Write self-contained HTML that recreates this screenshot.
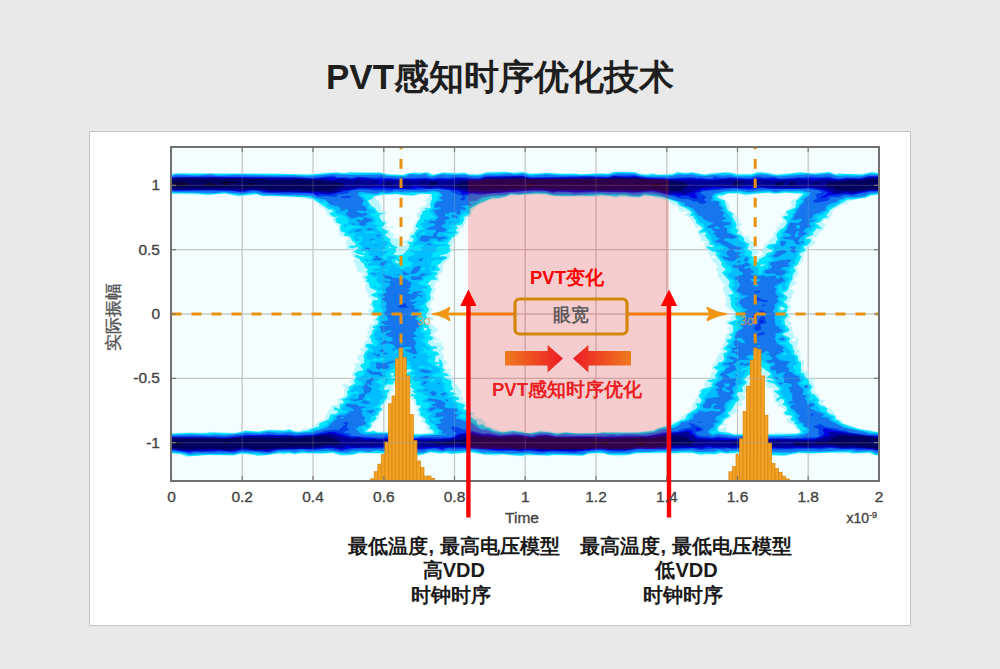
<!DOCTYPE html>
<html lang="zh"><head><meta charset="utf-8"><title>PVT感知时序优化技术</title>
<style>
html,body{margin:0;padding:0;}
body{width:1000px;height:669px;overflow:hidden;background:#e9e9e9;position:relative;font-family:"Liberation Sans",sans-serif;}
.t{position:absolute;white-space:nowrap;line-height:1;}
.card{position:absolute;left:89px;top:131px;width:820px;height:493px;border:1px solid #c6c6c6;background:#fff;}
.plot{position:absolute;left:0;top:0;}
.title{left:0;width:1000px;text-align:center;font-weight:bold;color:#1e1e1e;}
.tick{color:#444;-webkit-text-stroke:0.35px #444;}
.c{text-align:center;}
.r{text-align:right;}
.b{font-weight:bold;}
.bt{width:240px;font-size:20px;color:#1a1a1a;}
</style></head><body>
<div class="card"></div>
<svg class="plot" width="1000" height="669" viewBox="0 0 1000 669">
<defs><clipPath id="pc"><rect x="171" y="147" width="708" height="334"/></clipPath><linearGradient id="gl" x1="0" x2="1" y1="0" y2="0"><stop offset="0" stop-color="#f07a1e"/><stop offset="1" stop-color="#ec1c26"/></linearGradient><linearGradient id="gr" x1="1" x2="0" y1="0" y2="0"><stop offset="0" stop-color="#f07a1e"/><stop offset="1" stop-color="#ec1c26"/></linearGradient></defs>
<rect x="171" y="147" width="708" height="334" fill="#f5feff"/>
<path d="M242.2 147V481M313.0 147V481M383.8 147V481M454.5 147V481M525.2 147V481M596.0 147V481M666.8 147V481M737.5 147V481M808.2 147V481M171 185.3H879M171 249.7H879M171 314.0H879M171 378.4H879M171 442.7H879" stroke="#d6d6d6" stroke-width="1.3" fill="none"/>
<g clip-path="url(#pc)">
<path fill="rgb(185,246,255)" fill-rule="evenodd" d="M620.5 456.5L608.5 455.5L602.5 453.6L589.5 454L582.5 456.1L553.5 455.5L548.5 456.3L529.5 455.7L522.5 456.4L502.5 455L494.5 455.9L471.5 453.1L450.5 454.5L446.5 453.4L440.5 453.9L431.5 453.1L418.5 456.1L412.5 454.7L358.5 453.5L352.5 455.2L342.5 456.2L332.5 453.4L309.5 454.2L303.5 453.4L294.5 454.5L288.5 453.7L284.5 454.5L275.5 454.2L258.5 456.3L248.5 454.4L240.5 454.2L232.5 455.8L203.5 455.5L186.5 457L180.2 454.5L171.5 453.6L169.8 451.5L168.9 443.5L169.8 435.5L171.5 433L189.5 432.2L206.5 432.6L211.5 431.8L235.5 432.4L244.5 430.3L258.5 430.9L268.5 429.5L283.5 430L289.5 428.7L293.5 430.6L298.5 431.1L304.5 428.5L311 427.5L320.5 420.9L325.4 419.5L325.2 416.5L327.9 412.5L327.8 410.5L330.5 408.6L330.4 406.5L331.5 405L336.5 405L339.3 401.5L337.1 399.5L343.5 396.4L344.8 392.5L344.1 390.5L345.6 386.5L343.5 386.7L340.8 385.5L343.5 384.2L350.5 384.9L352.6 383.5L349.5 382.5L349.5 381.5L354.6 377.5L352.5 376.2L351.8 374.5L355.5 367.5L355.6 365.5L354.1 363.5L361 362.5L360.8 361.5L357 359.5L357.8 357.5L356.7 356.5L362.3 353.5L362 350.5L359.5 349.5L360.4 348.5L362.5 349.1L363.6 348.5L363.4 345.5L365.3 341.5L368 339.5L368.1 338.5L366 336.5L369.2 334.5L366.8 332.5L370.4 329.5L368.4 327.5L369.6 326.5L369.4 324.5L374.5 323.5L375.4 322.5L372.9 320.5L372.9 319.5L376 317.5L376.3 316.5L374.5 315.2L369.5 315.7L369.7 312.5L367.1 310.5L369.8 309.5L371.6 307.5L368.4 304.5L370.5 303.8L371.6 298.5L368.2 296.5L368.7 294.5L366.5 291.6L365.3 286.5L366.3 283.5L363.8 282.5L364 279.5L361.8 277.5L364.1 273.5L357.6 271.5L356.8 270.5L357.5 268.5L355.3 265.5L355.5 263.5L352.9 261.5L355.5 258.5L352.7 256.5L351.2 252.5L351.7 250.5L348.5 249.3L346.5 249.6L345.4 248.5L347 246.5L345.9 241.5L348.6 238.5L347.7 237.5L340.5 236L339.3 234.5L339.8 232.5L338 230.5L339 228.5L337.9 225.5L332.6 221.5L333.3 218.5L326.6 214.5L326.8 212.5L325 210.5L325.5 209.5L318.6 205.5L319.5 204.5L318.6 203.5L315.6 202.5L311.5 199.4L294.5 197.4L262.5 196.6L256.5 194.9L238.5 196.4L225.5 194.1L207.5 195.3L171.5 194.2L169.9 191.5L168.9 184.5L170.3 175.5L173.5 173.2L181.5 172.7L308.5 173.9L326.5 172.1L344.5 172.4L349.5 171.6L366.5 172.5L379.5 172L388.5 173.9L403.5 174.2L414.5 172L427.5 171.8L433.5 174.4L443.5 172L457.5 172.6L464.5 172L468.5 173.6L477.5 174L485.5 171.9L504.5 171.4L514.5 172.1L522.5 171.6L535.5 173.5L547.5 172.4L587.5 173.7L597.5 172.7L607.5 173.3L613.5 171.2L621.5 171.3L635.5 171.7L644.5 173.9L652.5 172.9L658.5 174.1L672.5 173.6L677.5 171.6L685.5 172.4L692.5 171.8L703.5 174.2L714.5 171.9L729.5 171.8L739.5 173.8L751.5 173.7L756.5 171.8L761.5 171.7L771.5 172.8L776.5 174.4L780.5 173.5L792.2 173.5L799.5 171.6L813.5 172.7L829.5 171.6L834.5 173.5L839.5 172.9L848.5 173.8L861.5 173.7L872.5 171.4L878.5 172.2L880.3 175.5L881.1 182.5L880.3 191.5L878.5 195.3L872.5 195.7L865.5 198.3L860.1 198.5L848.2 201.5L847.2 202.5L848.6 204.5L842.5 204.3L837.5 208L833.6 209.5L829.5 219.1L828.5 219.9L824.5 219.6L821.7 222.5L826.2 224.5L823.4 226.5L823.9 229.5L818 233.5L817.9 236.5L812.8 237.5L813.2 240.5L815.5 241.5L814.7 243.5L806.7 248.5L808.2 250.5L803.3 254.5L803.6 256.5L802.4 259.5L803.1 261.5L800 263.5L799.2 265.5L796.7 267.5L798.7 274.5L795.3 277.5L793.7 280.5L795.5 282L797.5 281.7L798.2 282.5L794.5 283.2L796 284.5L791.4 286.5L790.5 288.5L793.6 290.5L794 292.5L791.9 294.5L792.4 296.5L790.4 299.5L790.8 301.5L788.1 302.5L787.8 303.5L790.9 305.5L789.1 312.5L791.3 316.5L787.9 319.5L792.1 323.5L789.8 325.5L792.4 328.5L791.3 331.5L794.2 332.5L792.6 334.5L796.3 337.5L792.6 338.5L792.2 340.5L794.5 341.4L795.5 340.8L796.5 337.7L799.2 338.5L797.6 341.5L797.5 344.4L796.4 344.5L797.3 345.5L795.3 347.5L799.8 350.5L798.5 353.5L801.6 355.5L800.3 356.5L800.3 359.5L804.5 361.5L802.8 368.5L804.5 370.6L809.1 372.5L808.6 376.5L809.6 377.5L813.5 378.3L815.5 380.5L814.5 381.1L812.5 379.6L811.8 380.5L814.5 385.5L813.6 389.5L814.2 390.5L816.5 393.8L819.8 395.5L818.8 396.5L819.2 397.5L821.5 399.7L825.4 400.5L822 403.5L834 411.5L834.7 412.5L834 413.5L836.5 415.5L837.5 418.5L841.5 420L844.3 423.5L859.2 428.5L878.5 431.7L880 433.5L881.1 442.5L880.1 452.5L878.5 455.5L875.5 455.9L869.5 453.5L851.5 454.2L847.5 453.1L839.5 453.9L833.5 453.1L819.5 453.3L813.5 454.4L798.5 453.4L786.5 456.1L773.5 456.1L763.5 453L754.5 453.7L744.5 452.6L736.5 453.8L720.5 453.5L714.5 455.1L710.5 454.7L701.5 455.8L692.5 453.4L644.5 453.5L633.5 454.2L620.5 456.5ZM757.5 256.5L762.5 254.8L763.5 253.6L761 251.5L763.2 248.5L764.5 244.4L765.5 243.1L768.5 242.2L770.5 238.7L773.7 236.5L773.7 233.5L776.3 230.5L777 227.5L781.5 226.5L779.5 226.5L778.6 225.5L780.5 222.8L783.7 222.5L783 219.5L780.7 216.5L784.2 214.5L785.5 210.9L792.2 206.5L792.1 204.5L790 202.5L792.5 200.1L796.5 198.8L800.3 194.5L788.5 193.3L775.5 194.2L759.5 193.4L746.5 195.9L740.5 194.4L729.5 193.9L725.9 194.5L721.6 197.5L726.4 200.5L728.8 204.5L730.6 210.5L734.3 212.5L735.7 216.5L737.5 216.9L740.3 219.5L738.7 221.5L738.9 222.5L741.3 223.5L741.7 224.5L739.8 225.5L739.5 227.5L743.3 235.5L744.5 236.4L748.5 236.1L749.7 238.5L748.2 239.5L754.5 242.5L755.7 245.5L753.6 248.5L759.3 251.5L757.5 254.4L754.4 255.5L757.5 256.5ZM402.9 241.5L409 239.5L408.7 234.5L412.6 231.5L413.5 229.5L413.2 226.5L418 218.5L416.5 213.5L419.3 212.5L420.2 210.5L419.7 208.5L420.5 207.7L424.5 206.5L427.9 202.5L426.5 200.9L422.2 200.5L425.5 199.9L428.5 198L429.3 194.5L420.5 194.4L412.5 196.3L393.5 194.7L376.3 196.5L375.7 199.5L379.7 201.5L379 203.5L380.5 204.2L381.8 206.5L381.1 210.5L384.5 210.6L386.7 213.5L384.6 215.5L385 219.5L388.1 222.5L385.9 225.5L387.5 227.3L392.5 226L393.6 226.5L393.8 227.5L392.5 228.3L387.5 227.6L386.5 228.5L387.5 229.5L389.5 229.2L390.8 232.5L395.4 235.5L391.4 237.5L398.5 238.8L399.3 240.5L402.9 241.5ZM609.4 432.5L613.5 431.7L634.5 432.1L651.1 430.5L668.5 424.7L671.5 421.9L678.7 420.5L682.5 416.1L688.4 412.5L691 409.5L692.6 406.5L692.6 403.5L695.6 401.5L694.4 399.5L697.7 397.5L697.6 395.5L698.9 393.5L698.7 390.5L704.9 386.5L704.2 384.5L705.6 380.5L710.4 377.5L711 375.5L710.1 373.5L715.3 371.5L715.1 370.5L712.5 369.7L711.7 368.5L713 364.5L716 361.5L716.4 358.5L718.7 353.5L723.3 351.5L720.1 349.5L724.7 342.5L724.2 339.5L727 333.5L730.5 332.2L729.2 329.5L726 328.5L730.4 326.5L730.4 325.5L725.7 323.5L725.5 322.5L727.5 320.7L730.5 320L730 317.5L732.8 315.5L733.5 312.5L727.4 307.5L725.3 304.5L725.6 302.5L727.6 300.5L725 299.5L727.1 297.5L723.9 294.5L725.5 292.5L722.4 290.5L723.8 286.5L726.4 285.5L722.5 283.1L720.8 279.5L718 276.5L717.9 271.5L715.6 268.5L718.9 266.5L716 265.5L716.5 263L714.5 262.7L712.3 260.5L712.5 258L715.5 258.8L716 257.5L713.5 255.7L712.5 255.7L711.5 257.6L710.5 256.7L706.8 249.5L704.8 247.5L704.8 243.5L706.8 241.5L705.5 241L703.5 241.8L700.2 240.5L701.6 238.5L698.4 234.5L697.2 230.5L701.1 228.5L695.5 227.1L690.5 218.5L684.4 214.5L688.5 212.4L685.5 210.9L680.5 211.7L678.9 210.5L678.1 206.5L672.6 204.5L667.1 200.5L651 196.5L643.5 196L639.5 198L621.5 197.1L615.5 197.9L609.5 196.4L567.5 196.9L551.3 196.5L546.5 194.9L536.5 194.4L515.5 195.6L511.5 194.9L501.5 198.6L490.5 200.1L479.4 204.5L473.9 208.5L471.9 211.5L471.5 214.5L466.7 218.5L464.1 226.5L459.3 229.5L460 232.5L459.2 234.5L453.7 238.5L453.7 241.5L455.6 242.5L453.5 242.7L452.2 244.5L451.6 247.5L452.4 250.5L450 253.5L450.7 255.5L450 257.5L443.2 264.5L443.5 266.5L442.2 268.5L443.3 270.5L438.4 275.5L439.7 280.5L434.4 282.5L435.7 284.5L433.2 287.5L436.6 289.5L434.5 290.7L434.2 292.5L432.2 294.5L434.4 299.5L431.1 301.5L429.6 306.5L432.8 309.5L431.5 309.8L431 312.5L428.6 315.5L432.5 317.3L433.6 319.5L430.2 320.5L429.7 321.5L430.6 323.5L436.5 327.7L437.7 329.5L436.2 332.5L431.7 334.5L435.5 336.5L437.5 339.3L440.4 339.5L439.5 340.6L434.5 340.4L433.5 341.5L435.5 343.1L437.5 341.9L441.3 342.5L442.9 346.5L444.2 347.5L444.2 349.5L440.6 351.5L444 355.5L443.4 359.5L448 362.5L444.5 365.5L444.5 367.5L446.5 369.7L449.5 368.9L451.8 369.5L449.7 371.5L450.4 373.5L452.6 375.5L449.9 377.5L453 379.5L454.5 383.4L456.6 384.5L461.4 391.5L461.9 394.5L458.6 395.5L463.3 397.5L463.7 398.5L461.7 400.5L467.5 401.9L470.9 404.5L467.2 407.5L471.2 409.5L469.9 410.5L475.5 414.2L472.4 415.5L473 416.5L475.5 417.7L482.4 418.5L483.2 419.5L482.7 420.5L486.4 422.5L486.5 425.6L502.5 431.5L512.5 429.9L516.5 430.8L521.5 430.7L526.3 432.5L529.5 432.7L540.5 430.6L549.5 431L555.5 432.7L563.5 431.8L576.5 432.7L595.5 432.7L603.5 431.8L609.4 432.5ZM817.3 232.5L818.3 231.5L817.5 230.8L815.8 232.5L817.3 232.5ZM405.5 245.5L406.2 244.5L405.5 243.3L402.5 242.7L402.5 245.1L405.5 245.5ZM724 279.5L723.5 277.2L721.7 277.5L723.5 280.1L724 279.5ZM449.2 372.5L449.4 371.5L447.5 370.6L446.4 371.5L449.2 372.5ZM772.6 433.5L775.5 432.6L795.5 433.3L798.8 432.5L798.8 431.5L792.5 424.6L789.5 423.4L786.4 420.5L786.5 418.9L790.2 416.5L785.5 416.3L783 414.5L782.4 412.5L784.6 410.5L783.5 407.9L776.9 405.5L779 403.5L774.1 401.5L774.8 399.5L773.4 395.5L775.5 394.5L771.7 391.5L772.5 389.5L775 388.5L772.5 387.3L769.5 388.2L766.5 386.9L765.3 385.5L767.2 383.5L762.5 380.3L758.5 379.4L755.5 380.8L752.4 380.5L751.9 379.5L753.5 378.1L758.5 375.6L762.5 376.4L763.3 373.5L760.5 373.3L758.5 375.4L755.4 375.5L749.1 377.5L748.4 378.5L750 383.5L747.9 385.5L752.3 388.5L748.5 390.1L747.4 389.5L747.4 391.5L741.8 394.5L744.5 395.6L745.5 398.5L740.5 402.3L738.9 402.5L742.5 403.2L742.3 404.5L740.5 405.8L735.1 406.5L735.6 408.5L739 410.5L734.5 413.5L731.5 414.4L732.3 416.5L724.5 421L724.2 422.5L726.9 424.5L726.5 425.3L721.7 425.5L719.5 427.2L719.4 428.5L721.5 428.9L725.5 426.8L727 428.5L725.8 430.5L726.3 431.5L733.5 433.8L749.5 433L772.6 433.5ZM420.2 433.5L429.3 432.5L431 431.5L425.8 428.5L426.7 425.5L426 424.5L420.8 421.5L422.4 418.5L417.4 415.5L418.2 412.5L415.9 409.5L417.7 407.5L414.9 405.5L413.8 401.5L410.5 397.3L407.1 397.5L408.5 394.5L407.8 391.5L410.3 389.5L406.1 388.5L405.6 387.5L407.1 385.5L405.5 384.4L398.5 383.8L391.7 386.5L394.4 390.5L391 391.5L389.4 396.5L389.6 399.5L387.2 400.5L386.5 403.1L383.2 405.5L382.7 406.5L384.3 409.5L380.4 412.5L379.4 418.5L376 420.5L375.4 422.5L373 424.5L372.1 427.5L368.3 430.5L369.5 431L374.5 429.9L377.5 431.6L388.5 431.5L403.5 433.2L420.2 433.5Z"/>
<path fill="rgb(0,228,255)" fill-rule="evenodd" d="M548.5 455.5L527.5 454.5L521.5 455.7L503.5 454.3L484.5 454.5L471.5 452L450.5 453.8L446.5 452.4L440.5 453.2L430.5 452.1L419.5 455.1L391.5 452.5L387.5 453.3L359.5 452.7L352.5 454.4L341.5 454.9L332.5 452.5L321.5 453.4L301.5 452.8L294.5 454.1L288.5 452.8L284.5 453.7L279.5 453L266.5 455.1L257.5 455.4L248.5 453.7L240.5 453.4L233.5 455.2L209.5 454.7L188.5 456.2L180.5 453.8L171.5 453.1L169.7 449.5L169.4 443.5L169.9 436.5L171.5 433.7L189.5 432.9L202.5 433.6L211.5 432.6L234.5 433.5L245.5 431.1L258.5 431.7L269.5 430.1L284.5 430.8L289.5 429.5L293.9 431.5L298.5 431.9L308.5 430.6L312.5 428.3L319.3 426.5L319.1 423.5L328.5 419.5L330.7 414.5L335.5 414L338.3 412.5L337.5 410.6L334.5 410.2L333.8 407.5L335.5 407.2L338.5 409.1L339.5 408.5L340 405.5L339.1 404.5L342.5 403.7L344.2 401.5L340.9 399.5L346.3 397.5L347.9 394.5L346.9 391.5L349.4 389.5L348.2 387.5L355 383.5L355.4 382.5L353.9 381.5L354 380.5L356.2 376.5L354.3 374.5L354.8 373.5L358.5 370.9L362.9 370.5L363.2 369.5L360 365.5L364.3 362.5L363.6 355.5L366.3 350.5L369 349.5L365.5 346.5L365.5 345.5L366.5 344L373.3 343.5L371.2 341.5L371.2 339.5L369.7 336.5L372.3 333.5L372.5 330.2L374.8 328.5L372.6 327.5L372.9 326.5L377.4 324.5L378.5 322.5L378.5 321.3L375.9 319.5L377.5 317.9L379.2 313.5L373.5 313.5L372.3 312.5L374.4 308.5L371.8 304.5L372.6 301.5L373.5 300.2L377.5 300.1L378.5 298.5L371.5 295.4L371.2 294.5L377.6 291.5L369.8 287.5L368.8 282.5L365.8 281.5L367.4 279.5L364.6 277.5L367.8 275.5L367.8 273.5L366.5 271.5L368.1 269.5L365.3 267.5L363.7 263.5L360.8 261.5L359.5 258.7L354.6 256.5L356.5 254.7L361 256.5L364.5 256.6L364.4 255.5L357.5 253.8L353.6 251.5L357.5 249.2L358.3 247.5L357.5 247L352.5 248L349.2 247.5L349.5 246.1L355.5 245.5L355.8 243.5L352.5 241.1L349.8 236.5L343.8 235.5L345.2 232.5L342.5 232.2L340.6 230.5L340 226.5L341.2 224.5L336.5 222.4L335.1 219.5L335.5 218.3L339.2 216.5L334.5 216.9L329.7 214.5L330.5 212.5L333.5 211.5L332.5 210.1L328.8 209.5L313.5 198.9L305.5 197.3L269.5 195.5L262.5 195.9L256.5 194L238.5 195.7L224.5 193.3L207.5 194.7L195.5 193.4L172.5 193.6L170.9 192.5L169.6 188.5L169.6 178.5L170.8 175.5L172.5 174.2L176.5 173.6L278.5 173.8L308.5 174.7L336.5 172.5L344.5 173.5L350.5 172.6L379.5 172.7L388 174.5L403.5 175.2L407.5 173.6L414.5 172.8L419.5 173.4L427.5 172.6L432.5 175L443.5 172.7L457.5 173.5L464.5 172.9L468.5 174.4L477.5 174.8L481.5 174.5L485.5 172.7L504.5 172.1L514.5 173L522.5 172.2L529.5 173.9L547.5 172.9L560.5 174.1L575.5 173.7L580.5 174.6L599.5 173.4L608.5 173.9L614.5 172L634.5 172.3L640.5 174.4L647.5 174.9L652.5 173.8L657.5 174.9L672.5 174.6L677.5 172.4L685.5 173.2L692.5 172.5L704.5 174.8L725.5 172.6L731.5 172.9L736.5 174.6L751.5 174.5L757.5 172.4L761.5 172.5L777.5 175.1L799.5 172.5L813.5 173.7L829.5 172.2L835.5 174.7L839.5 173.8L862.5 174.5L872.5 172.3L878.5 173.4L880.2 176.5L880.6 182.5L880.3 190.5L878.5 194.2L870.5 195.2L865.5 197.6L852.5 199.5L847.5 199.5L830.5 209.4L826.3 215.5L828 216.5L827.3 217.5L823.5 217.9L820.5 221.8L815.6 223.5L818.5 225.1L819.5 227.1L821.5 227.5L821.8 228.5L816 228.5L815.2 230.5L812.7 232.5L813.4 234.5L806.3 237.5L806.5 239.2L810.5 238.7L810.9 241.5L807.5 245.3L803.5 246.5L805.5 250.5L799.4 253.5L799.5 254.9L801.4 256.5L797.5 264.5L793.5 267.2L795.6 270.5L792.4 275.5L792.7 278.5L789.8 283.5L788.2 289.5L785.5 292L782.4 292.5L787.7 297.5L785.8 300.5L783.5 301.5L787.4 305.5L788.1 307.5L786.8 308.5L787.1 310.5L785.7 312.5L787.8 314.5L787.6 316.5L784.5 319.5L784.5 320.5L785 324.5L789.5 329.5L787.5 331.9L783.2 333.5L782.7 334.5L790.5 338.3L789.1 340.5L789.2 342.5L792.4 345.5L793 349.5L794.6 351.5L793.9 353.5L798 356.5L798.1 360.5L801 362.5L800.8 372.5L804.2 373.5L804.8 376.5L808.4 379.5L809.1 383.5L812.4 386.5L810.2 390.5L811.5 393.5L814.4 394.5L819 399.5L819.3 400.5L817.7 402.5L820.5 405.4L824.4 406.5L827.8 409.5L826.1 410.5L828.8 413.5L834.5 415.7L835.3 416.5L835.3 419.5L838.8 420.5L841.7 423.5L858.5 429.1L878.5 432.5L880.2 435.5L880.8 442.5L880.1 450.5L878.5 454.7L875.5 455L869.5 452.6L852.5 453.3L848.5 452.3L840.5 452.2L809.5 453.3L799.5 452.5L783.5 455.4L772.5 455L763.5 452.2L751.5 452.7L745.5 451.8L726.5 453.4L720.5 452.6L715.5 454.1L704.5 453.8L701.5 454.5L692.5 452.7L681.5 452.4L675.5 453.2L667.5 452.5L636.5 453L628.5 454.8L621.5 455.1L608.5 454.8L604.5 453.3L597.5 453L588.5 453.5L582.5 455.5L553.5 454.8L548.5 455.5ZM759.1 261.5L758.6 259.5L764.7 256.5L766.5 253.3L772.5 251.4L772.5 249.8L767.5 248.3L766.5 247.5L766.9 246.5L768.8 244.5L775.9 243.5L776.1 241.5L777.7 239.5L776.2 234.5L780.3 229.5L784.2 227.5L787.2 222.5L785.8 219.5L782.7 217.5L783.5 216.4L787.9 215.5L788.4 214.5L786 212.5L786.5 211.5L795.5 207.4L795.5 204.5L796.9 203.5L795.7 201.5L803.1 194.5L803.1 193.5L785.5 192.4L774.5 193.6L769.5 192.4L745.5 194.4L739.5 193.2L728.5 193.1L722.5 195.2L718.5 195.2L716.9 196.5L718.6 198.5L724.5 200.6L727.7 210.5L732.8 213.5L732.2 216.5L736.7 224.5L735.5 227.5L738.5 230.5L736.4 233.5L741.5 235.6L744.1 238.5L744.4 241.5L748.7 243.5L749.2 244.5L747.2 249.5L752.2 251.5L751.4 255.5L754.6 258.5L752.3 259.5L755.5 262.1L759.1 261.5ZM403.1 254.5L408.6 248.5L409.9 244.5L407.5 242.4L408.5 241.6L411.5 242.2L413.4 240.5L413.5 238.4L410.5 236.8L410.5 236L413.5 235L416.1 230.5L418.8 228.5L415.3 226.5L418.5 220.5L420 219.5L420.2 215.5L422.6 213.5L422 211.5L431 207.5L430 204.5L432.1 198.5L431.5 193.9L420.5 193.5L412.5 195.6L396.5 194L381.5 194.4L373.4 196.5L372.5 198.7L368.5 200.2L368.3 201.5L371.5 206.3L374.5 207.8L378.5 212.8L384.8 213.5L379.6 214.5L379.4 217.5L382.2 221.5L385.5 222.5L383.5 226.1L381.2 227.5L388.1 231.5L387.5 233.3L385.5 233.7L385.3 235.5L390.6 239.5L390.2 241.5L392.1 244.5L397.7 247.5L395.8 248.5L396.1 251.5L393 254.5L398.5 255.4L403.1 254.5ZM557.9 433.5L566.5 432.4L576.5 433.4L596.5 433.3L603.5 432.4L636.5 432.7L653.5 430.9L659.5 427.9L671.2 425.5L681.5 420L685 419.5L687.3 414.5L696.5 408.5L697.7 406.5L695.5 403.5L699.7 403.5L701.9 400.5L698.8 395.5L701.4 392.5L700.6 391.5L701.1 390.5L702.5 389.2L711.7 386.5L711.3 383.5L714.6 381.5L710.5 382.3L707.2 380.5L715.8 378.5L716.3 377.5L714.9 376.5L714.9 375.5L718.3 370.5L713.4 367.5L717.5 365.2L718.4 362.5L722.5 361.8L723.5 360.8L724.3 358.5L723.1 353.5L726.1 352.5L727.6 350.5L723.9 349.5L723.4 348.5L728.8 343.5L726.8 341.5L726.9 339.5L730.5 338.9L731.6 337.5L731.5 335.9L728.4 334.5L731.8 333.5L733.3 331.5L733.1 325.5L728.5 323.5L728.3 322.5L736.9 319.5L735.3 317.5L736.1 312.5L731.3 306.5L730.5 303.5L731.4 301.5L730.1 299.5L730.9 297.5L727.8 295.5L733.5 293.5L728.6 286.5L729.8 281.5L722 272.5L726.1 269.5L721.6 265.5L721.7 262.5L715.6 254.5L716.8 253.5L716.4 252.5L711.5 251.1L706.5 247.5L707.5 245.9L710.5 247.1L713.5 247L713.6 245.5L709.3 244.5L709.7 241.5L704.8 235.5L706.3 233.5L705.6 232.5L701.6 232.5L700.5 233.7L699.5 232.5L699.4 231.5L703.1 228.5L702.6 227.5L695.7 222.5L696.5 220.5L694 218.5L693.7 216.5L688 214.5L690.5 214.4L691.7 212.5L691 211.5L685 207.5L679.5 205.6L677.3 202.5L675.4 201.5L662.5 197.3L644.5 195L639.5 196.9L630.5 196.6L624.5 195.4L619.5 195.4L616.5 196.4L602.5 195L589.5 196.1L580.5 195.4L567.5 196.1L554.5 195.7L546.5 194L536.5 193.5L518.5 194.8L510.5 194.3L506.5 196.2L498.5 197.9L492.5 197.8L479.2 203.5L470.5 208.5L469.5 214.4L463 217.5L464.7 218.5L462.1 224.5L456 225.5L457.6 227.5L455.6 230.5L458 232.5L455.2 234.5L454.5 236.5L452.2 237.5L447.8 243.5L450.2 245.5L448.9 247.5L450.7 250.5L447.5 253.5L440.1 255.5L440 256.5L444.5 256.1L447.9 257.5L441.6 261.5L441.5 263L438 264.5L437.5 266.5L440.5 269.8L437.5 271.2L432.6 271.5L437.8 272.5L437.3 274.5L434.5 276.5L437.7 279.5L431.5 279.7L427.7 283.5L428.5 285L431.2 285.5L430 286.5L431.9 289.5L429.5 294.5L430.6 296.5L430.4 299.5L426.1 303.5L426.7 306.5L429.1 309.5L425.7 315.5L427.4 317.5L423.7 320.5L425.4 323.5L429.3 326.5L428.4 328.5L432 329.5L430.5 330.1L431 332.5L429.6 335.5L433.1 337.5L433 338.5L431.5 340.1L428.7 340.5L427.9 343.5L431.5 346.2L436.6 346.5L437.2 347.5L436.5 348.2L433.5 348.9L432.2 350.5L433.6 351.5L436.5 351.4L438.9 353.5L439.1 354.5L435.5 355.9L434.6 361.5L438.5 362.4L439.6 361.5L438.9 360.5L439.5 358.9L441.3 360.5L442.9 364.5L442.2 367.5L444.7 370.5L442.4 372.5L446.5 373.6L449.2 375.5L447.5 376.2L444.5 375.5L443.8 376.5L445.5 378.3L450.5 379.9L451.6 381.5L451.2 384.5L452 387.5L453.7 389.5L450.5 389.9L450.1 391.5L455.8 393.5L455.6 394.5L453.3 394.5L452.7 395.5L457.5 397L459.4 398.5L458.5 399.8L455.9 400.5L456 401.5L464.2 404.5L465.1 405.5L463 408.5L471.3 413.5L470.4 416.5L473.5 419.5L475.5 420.4L477.6 419.5L476.4 421.5L477.5 424L479.5 424.9L482.5 424.3L485.5 426.9L490.5 428.3L493.6 430.5L503.3 432.5L512.5 430.8L529.5 433.4L540.5 431.4L557.9 433.5ZM427.5 209.4L424.2 208.5L426.5 207.7L428 208.5L427.5 209.4ZM391.6 247.5L390.5 246.9L388.6 247.5L390.5 248.2L391.6 247.5ZM365.8 252.5L363.5 251.4L362 252.5L363.5 253.1L365.8 252.5ZM401.3 258.5L400.5 256.9L398.3 258.5L401.3 258.5ZM399.7 262.5L396.5 259.9L394.7 261.5L397.5 263.4L399.7 262.5ZM763.3 265.5L765.8 264.5L761.5 264.4L759.6 265.5L761.5 266.4L763.3 265.5ZM782.6 310.5L785.9 308.5L781.5 306.8L779.5 307.2L780.5 310.4L782.6 310.5ZM426.2 330.5L427.4 328.5L424.5 327.6L423.5 328.4L424.5 330.6L426.2 330.5ZM439.5 365.5L439.8 364.5L438.5 363.5L436.3 364.5L436.5 365.5L439.5 365.5ZM780.8 434.5L797.5 433.8L801.1 432.5L799.8 429.5L797.1 427.5L796.9 425.5L794.1 423.5L794.5 421.2L791.5 420.6L790.5 419.5L792.4 416.5L790.5 415.2L786.5 415L784.3 413.5L784.3 412.5L787 410.5L786.5 406.4L782.2 404.5L784.3 402.5L783.6 399.5L780.5 398.8L777.5 401.2L776.4 400.5L776.7 398.5L779.4 397.5L779.6 395.5L774.4 391.5L774.6 390.5L778.5 390.4L779.6 388.5L773.9 383.5L769.5 382.5L766.2 380.5L768.5 379.8L772.5 381.1L773.7 380.5L771 378.5L766.4 377.5L770.5 374.8L770.5 373.5L760.5 366.2L752.1 366.5L762.1 369.5L761.5 370.7L759.5 370.4L757.5 371.5L756.5 373.7L748.5 374.9L744.5 379L744.1 379.5L747.2 382.5L741.5 387.5L740.4 386.5L742.3 388.5L743.1 391.5L737.5 392.4L736.5 394.5L739.2 398.5L738.7 400.5L735.7 402.5L731.1 410.5L728.3 412.5L728.1 413.5L729.9 415.5L729.3 416.5L723.9 419.5L722.1 423.5L718.2 426.5L717.5 430.5L719.5 431.8L729.5 433L733.5 434.6L780.8 434.5ZM419.5 434.5L434.8 433.5L433.4 432.5L433.6 430.5L429.2 428.5L430.5 426.5L425.5 422.5L424.9 421.5L426 419.5L419.6 414.5L420.5 412.5L418.4 409.5L421.1 406.5L420.6 405.5L416.5 405.1L416.1 399.5L413.5 398.3L414.3 396.5L410.4 395.5L411.5 393.7L414.5 394.8L417.6 394.5L415.5 394.3L412.5 391.5L414 389.5L409.9 386.5L411.6 384.5L410.8 383.5L406.2 382.5L402.3 377.5L404.5 374.6L412.1 370.5L410.6 369.5L407.5 369.6L403.5 372.3L398.5 372.4L397.5 375.5L390.6 377.5L391.5 378.3L393.5 377.7L397.5 379L399.5 378.2L400 379.5L393.5 381.4L393.3 383.5L392.1 384.5L387.5 384.5L385.6 385.5L383.7 388.5L384.2 389.5L385.5 390.3L389.8 389.5L386.9 394.5L387.3 397.5L384.5 400.5L384.2 402.5L379.7 406.5L382.3 409.5L379.2 411.5L378.5 414.5L375.3 416.5L376.9 418.5L370.4 423.5L371.3 426.5L365.2 431.5L369.5 432.1L373.5 431L377.5 432.6L395.5 432.7L402.5 434.1L419.5 434.5ZM393.1 375.5L394.5 373.5L393.5 372.8L390.5 373.5L390.2 374.5L391.5 375.6L392.5 376.4L393.1 375.5Z"/>
<path fill="rgb(0,190,255)" fill-rule="evenodd" d="M584.5 454.5L552.5 454.1L538.5 455L528.5 453.8L521.5 454.7L499.5 453.4L484.5 453.7L472.5 450.9L456.5 451.8L452.5 452.9L447.5 451.5L440.5 452.3L429.5 451.3L423.5 453.4L403.5 453.4L391.5 451.6L375.5 451.5L368.5 452.5L360.5 451.7L350.5 453.7L339.5 453.3L333.5 451.5L321.5 452.8L301.5 452L294.5 453.3L289.5 452.1L279.5 451.9L265.5 454.4L241.5 452.6L233.5 454.4L208.5 454.1L189.5 455.3L180.5 453L171.5 452.3L169.7 448.5L169.7 440.5L170.7 435.5L172.5 434.1L215.5 433.8L224.5 434.5L240 433.5L245.5 432L260.5 432.6L268.5 430.9L284.5 431.8L289.5 431.2L297.5 432.8L309.5 431.9L313.4 429.5L318.5 429L328.2 424.5L328.3 423.5L326.3 422.5L332.1 420.5L334.2 418.5L333.6 417.5L334.5 415.9L342.5 412.4L346.5 412.4L346.5 410.8L341.3 410.5L341.8 407.5L346.5 402.2L351 402.5L350.4 401.5L345.2 399.5L348.9 397.5L352.5 394.1L358.4 393.5L359.4 392.5L356.5 391.2L351.5 392.4L350.2 391.5L353.5 386.5L362.6 384.5L360.5 380.9L357.5 380.2L356.9 378.5L357.5 377.3L361.5 376.6L364.1 374.5L365.6 369.5L370.5 366.5L369.4 364.5L370.5 361.6L371.5 360.7L373.5 361.4L383.5 360.4L385.2 359.5L382.5 357.5L377.5 358.9L374.5 358.1L371.5 360L366.4 358.5L367.3 356.5L366.4 354.5L369.2 351.5L374.1 351.5L371.5 347.7L368.5 346.5L368.9 345.5L376.5 346.6L378.4 341.5L373.1 338.5L377.2 337.5L374.5 337L373.3 335.5L375.4 333.5L374.3 331.5L378.1 329.5L377 326.5L379.9 324.5L379.6 317.5L381.7 315.5L382 312.5L383.4 310.5L380.1 307.5L379.8 306.5L381.3 304.5L380.3 297.5L377.2 294.5L383.4 292.5L381.5 289.5L376.6 288.5L379.5 287.8L382.3 285.5L376.6 281.5L377.2 279.5L375.9 278.5L378.6 277.5L378.6 276.5L373.9 277.5L369.4 273.5L370.5 271.8L379.5 271.7L379.5 270.8L375.5 271.2L371.9 269.5L373.5 268.5L379.5 268.2L379.5 267.1L377.5 265.8L367.5 265.5L368.5 263.7L372.2 262.5L369.5 261L367.5 262L362.9 259.5L364.5 258.8L369.5 259.7L373 257.5L368.5 254.8L369.3 252.5L368.3 251.5L360.5 250L362.5 246.5L358.6 243.5L362.3 240.5L362.3 237.5L361 236.5L357.5 236.5L356.2 237.5L361.2 239.5L359.5 240.9L355.5 240.7L353.3 236.5L355.5 235.6L355.7 233.5L353.5 233L348.5 234.3L347.8 233.5L348.5 231.1L351.5 229L355.5 227.8L361.5 227.8L361.5 227L347.5 224.5L348.7 221.5L347.2 219.5L347.2 217.5L341.5 214.6L336.9 214.5L334.5 209.1L327.3 206.5L326.8 202.5L324.5 201.7L321.5 202.6L315.4 198.5L308.9 196.5L263.5 195.2L254.5 193.1L240.5 194.8L223.5 192.6L207.5 193.9L195.5 192.7L172.5 192.8L170.9 191.5L169.8 188.5L169.7 179.5L170.8 176.5L172.5 174.9L176.5 174.1L196.5 174.8L211.5 173.8L217.5 175L235.5 174.1L307.5 175.5L335.5 173.2L343.5 174.1L380.5 173.5L388.5 175.3L403.5 176L409.5 173.8L419.5 174.2L425.5 173.1L431.5 175.9L442.5 173.5L455.5 174.5L464.5 173.9L468.5 175.1L477.5 175.6L486.5 173.6L509.5 172.9L514.5 173.9L523.5 173L529.5 174.7L546.5 173.7L581.5 175.3L601.5 174.2L608.5 174.7L616.5 172.8L634.5 172.9L640.5 175L647.5 175.7L652.5 174.9L657.5 175.6L672.5 175.5L677.5 173.6L685.5 174L692.5 173.3L704.5 175.6L724.5 173.3L731.5 174.1L735.5 175.7L751.5 175.5L758.5 173.4L766.5 173.7L777.5 175.8L798.5 173.8L808.5 173.6L814.5 174.5L828.5 172.9L836.5 175.7L843.5 174.9L861.5 175.3L870.5 173.6L878.5 174.4L879.8 176.5L880.4 182.5L880.1 190.5L878.5 193.2L869.5 194.4L864.5 197L852.5 198.4L846.5 197.8L844.5 199.5L840.3 200.5L839.6 202.5L835.5 205.6L828.5 208.1L827.8 211.5L823.6 212.5L824 214.5L817.8 215.5L817.3 216.5L818.7 220.5L812.8 223.5L815.8 226.5L812.5 227.5L811.7 228.5L813.1 229.5L809.1 231.5L808.5 234.5L804.5 236.5L804.4 240.5L806.3 242.5L802.1 245.5L800.3 250.5L797.6 253.5L797 256.5L794.5 259.5L795.1 263.5L791.5 266.5L790.5 269L787.7 269.5L789.9 270.5L790.5 273.3L786.5 274.2L784.7 275.5L785.1 276.5L789.2 277.5L788.4 280.5L784.4 284.5L786.6 286.5L786.5 288.5L785.5 289.7L783.5 290.1L782.1 289.5L781.3 285.5L779.5 285.3L778.3 286.5L778.9 291.5L783.7 295.5L783.7 297.5L782.5 298.2L780.5 297.5L779.1 298.5L782.4 303.5L782 304.5L777.5 306.1L776.8 307.5L778.5 315.2L779.5 315.9L784.2 315.5L783.5 317L780 318.5L781.3 320.5L781.5 324.5L784.4 326.5L784.7 327.5L783.8 328.5L786.7 330.5L779.3 334.5L784.5 336.4L787.7 339.5L785.5 342.5L778.9 342.5L779.7 343.5L785.5 344.4L785.3 345.5L791.1 351.5L790.3 353.5L796.4 357.5L795 359.5L795.6 361.5L797.9 363.5L793.5 366.1L793.1 368.5L795.2 370.5L795.4 373.5L800.5 374.6L802.9 377.5L805.6 378.5L799.9 383.5L802.5 384.7L807.5 384.2L810.3 386.5L809.7 388.5L807.1 390.5L807.2 393.5L812.1 395.5L809 397.5L808.8 399.5L815.9 403.5L817.7 406.5L820.4 408.5L819.7 409.5L821.6 411.5L825.5 412.9L827.6 415.5L832.9 416.5L831.7 419.5L837.5 421.9L841.5 424.8L847.8 427.5L870.5 432.7L878.5 433.1L880.1 436.5L880.4 442.5L880 449.5L878.5 454L876.5 454.4L870.5 451.8L855.5 452.5L850.5 451.4L839.5 451.2L808.5 452.4L799.5 451.9L784.5 454L777.5 453.1L772.5 453.7L763.5 451.3L751.5 451.8L744.5 451.1L730.5 451.8L726.5 452.8L719.5 451.1L714.5 453L681.5 451.4L673.5 452.3L662.5 451.5L635.5 452.2L629.5 453.9L622.5 454L609.5 454L599.5 452.1L588.5 452.8L584.5 454.5ZM760.5 274.5L762.6 273.5L761.7 271.5L764.4 268.5L767.8 267.5L767.5 261.9L774.4 259.5L767.8 256.5L772.5 253.5L775 250.5L773.9 247.5L771.6 246.5L771.8 245.5L775.5 245.1L778.2 243.5L780.3 237.5L782.2 235.5L781.9 232.5L784.6 230.5L790 218.5L792.3 216.5L792.7 213.5L794.2 212.5L795 209.5L797.7 207.5L799.6 203.5L802.4 201.5L800.4 199.5L802.8 196.5L807.2 194.5L807.3 193.5L799.5 191.4L794.5 192.2L783.6 191.5L775.5 193.1L768.5 191.4L748.5 193.2L739.5 191.9L727.5 192.3L716.5 194.1L713.8 196.5L714.8 199.5L722.4 202.5L721 204.5L724.9 207.5L725 210.5L731.4 218.5L732.8 227.5L730 229.5L730.4 231.5L734.5 234.5L739.8 236.5L738.3 239.5L746.6 244.5L743.8 249.5L745.5 252.5L743.2 254.5L750.8 257.5L749.2 260.5L749.5 262.2L752.9 265.5L758.5 267.5L757.7 269.5L758.7 271.5L757.1 273.5L760.5 274.5ZM405.2 268.5L404.7 267.5L405.5 266.8L409.5 267.1L413.6 263.5L408.1 260.5L407.5 258.5L410.5 255.8L413.5 255.4L414.8 253.5L413.5 252.1L410.4 251.5L409.5 250.5L411.5 249.6L414.5 251L419.5 250.8L422 249.5L419.6 247.5L423.4 246.5L423.5 245.5L422.5 245L418.5 244.2L412.4 246.5L414.1 243.5L416.6 241.5L417.4 238.5L415.6 235.5L418.3 230.5L423.5 229.4L424 228.5L421.1 224.5L421.2 223.5L424 222.5L423.3 219.5L427.5 219.8L431.5 218.2L435.6 218.5L435.7 217.5L433.5 216.1L432.5 213.7L428.8 211.5L433.3 208.5L433.2 203.5L438.1 199.5L437.4 196.5L440.5 194.5L438.5 193L434.5 192.3L416.5 193.2L413.5 192.5L405.5 194.3L397.5 193L386.5 193.8L381.5 192.9L376.5 195L368.5 194L361.5 194.6L360.8 195.5L364.5 197.1L368.7 205.5L368 208.5L372.5 209.2L376 212.5L375.5 213.2L371.5 212.7L370.6 213.5L371.5 215.7L374.5 218L375.5 221.5L375.1 222.5L371.2 223.5L378.5 225.5L374.9 227.5L383.1 234.5L382.1 237.5L384.3 238.5L383.5 240.2L381.5 238.9L380.5 241L382.5 240.2L386.5 241.3L388.1 243.5L388.2 244.5L385.6 246.5L384.9 248.5L382.4 249.5L382.2 250.5L384.5 251.2L387.5 250.4L388.6 251.5L381.5 256.5L384.2 259.5L385.5 259.7L387.5 258.8L387.2 256.5L388.5 256L396.7 256.5L396.5 257.5L392.5 258.7L391.4 260.5L393.5 264.2L399.2 265.5L393.4 267.5L398.5 267.1L401.5 269.5L405.2 268.5ZM558.6 434.5L563.5 433.1L576.5 434L597.5 433.9L603.5 433L607.5 433.7L642.5 433.3L654.5 431.8L660.5 428.6L666.5 428.3L673.5 426.7L677.8 424.5L679.5 422.1L688.7 419.5L689.3 417.5L690.8 416.5L690.3 414.5L694.2 412.5L700.2 407.5L700.3 405.5L704 400.5L703.5 397.5L705.5 396.3L711.5 388.6L714.5 386.8L713.5 384.5L714 383.5L718.8 379.5L719.3 378.5L717.6 375.5L719.1 372.5L720.5 371L724.5 369.5L724.9 367.5L721.5 365.5L720.8 363.5L726.2 361.5L725.7 356.5L729.9 350.5L729.5 349.1L727.1 347.5L727.4 346.5L731.8 343.5L729.5 341.5L731.5 341.1L733.3 339.5L734.8 332.5L740.1 327.5L737.5 324.9L734.8 324.5L737.5 324.3L738.1 323.5L737.2 321.5L741.6 318.5L741.5 317.4L737.7 317.5L740.8 314.5L740 310.5L741.8 309.5L741.8 308.5L737.5 307L734.1 303.5L737.8 300.5L733.4 298.5L737.5 297.7L739 296.5L738.2 294.5L733.5 290.6L732.4 286.5L735.5 284.9L736.9 285.5L733.5 283.4L734 280.5L730.3 278.5L726.4 274.5L727.5 273.2L731.2 272.5L731.8 269.5L729.5 266.2L726.1 264.5L725.6 263.5L727 262.5L724.5 261.7L718.8 256.5L720.7 253.5L714.8 249.5L722.5 248.9L724.1 247.5L720.5 245.4L717.5 246.4L715.6 245.5L712.7 242.5L711.2 239.5L711.6 237.5L710.5 235.7L708.2 234.5L707.5 231.6L703.4 230.5L705 228.5L703.3 223.5L699.4 222.5L696.2 216.5L693.8 214.5L693 211.5L688 207.5L682 205.5L677.9 201.5L661.5 196L644.5 194L639.5 195.8L633.5 196L625.5 194.5L606.5 194.7L601.5 194L573.5 195.4L554.5 195L545.5 193.1L537.5 192.7L518.5 194.2L510.5 193.5L505.5 195.6L491.1 196.5L482.5 198.6L473.9 205.5L468.5 207L467.8 207.5L468.5 212.7L464.5 213.2L460.5 216.5L459.4 219.5L460.9 221.5L453.5 225.2L449.2 225.5L449.5 227L452.5 226.8L453.8 228.5L448.5 229.3L447.7 230.5L448.5 231.4L455.5 232.5L449.5 233.9L442.9 233.5L443.2 234.5L449.3 236.5L449.8 237.5L447.5 240.1L443.5 242L437.5 242.3L434.5 240.2L432.6 241.5L434.5 243.5L440.5 244.8L444.5 244.1L446.1 245.5L440.5 245.9L435.8 247.5L436.6 251.5L432.5 252.9L432.5 256.6L430.8 257.5L443.5 257.3L444.5 257.5L444.6 258.5L441.5 259.8L436.5 258.9L431.5 261.5L430.1 265.5L434.5 265.8L436.2 268.5L435.4 269.5L432.5 269.8L430.8 269.5L432.1 267.5L431.5 266.8L429.4 267.5L430.5 272.5L433.1 273.5L428.5 276.2L423.5 277.5L424.1 279.5L423.2 280.5L417.9 282.5L419.1 284.5L426.5 286.3L427.8 287.5L426.5 288.9L422.5 288.8L421.8 289.5L424.7 291.5L424.6 293.5L426.2 295.5L425.1 296.5L425.3 297.5L427 299.5L422.7 305.5L420.5 304.9L419.7 307.5L425.7 309.5L421.3 311.5L420.4 313.5L421.1 315.5L417.4 318.5L420.8 320.5L422.4 325.5L419.9 331.5L422.5 332.9L426.8 333.5L422.3 335.5L425.5 337.5L425.7 338.5L420.9 339.5L420.9 340.5L425.5 344L426.3 346.5L430.6 348.5L427.5 349.5L424.5 347.2L419.5 347.5L423.5 348.9L424.1 350.5L423.5 351.3L419.7 351.5L419.5 352.5L425.5 352.9L426.8 353.5L427.2 355.5L428.5 356.5L431.9 356.5L431.3 357.5L428.5 357.8L427.2 361.5L431.5 364.8L439.4 368.5L440.4 370.5L439.5 371.7L431.5 375.5L434.5 376.7L439.5 376.9L442.4 378.5L441 380.5L444.1 383.5L444.1 390.5L449.4 393.5L448.6 395.5L445.8 397.5L451.5 397.4L454 398.5L451.8 399.5L452.5 401.5L457.9 404.5L455.6 406.5L457.5 407.2L462.5 412.1L466.7 412.5L468.1 415.5L467.5 416.1L465.6 415.5L463.5 412.8L459.8 416.5L459.8 417.5L462.5 418.4L469.5 418.1L470.7 420.5L481.5 428.7L487.5 428.8L492.5 431.2L501.5 433L512.5 431.7L531.5 433.9L541.5 432.1L550.5 432.8L555.5 434.7L558.6 434.5ZM345.5 226.8L343.5 227.2L343.2 224.5L347.5 224.5L348.2 225.5L345.5 226.8ZM376.1 233.5L372.5 231.3L362.7 232.5L376.1 233.5ZM423.2 234.5L426.7 233.5L424.5 231.9L419.5 233.5L420.2 234.5L423.2 234.5ZM376.5 242.5L379.3 241.5L372.5 241.4L371.2 242.5L376.5 242.5ZM428.7 261.5L429.8 260.5L428.5 259.5L426.3 260.5L428.7 261.5ZM390.1 266.5L391.4 264.5L387.2 264.5L388.5 266.8L390.1 266.5ZM425 269.5L425.5 268.3L423.5 267.2L421.3 269.5L422.5 270.4L425 269.5ZM388.8 270.5L387.5 269L384.1 269.5L383.9 270.5L388.8 270.5ZM376.5 288.4L372.3 286.5L375.4 286.5L377.1 287.5L376.5 288.4ZM734.5 324.4L731.6 323.5L734.5 322.2L735.3 323.5L734.5 324.4ZM787.3 354.5L787.7 353.5L784.5 352.6L782.1 353.5L781.9 354.5L783.5 355.3L787.3 354.5ZM780.4 435.5L793.5 435.3L802.5 433.7L803.7 432.5L801.9 430.5L805.5 429.9L806.7 428.5L801.5 426.5L801.5 424.2L796.4 423.5L796 422.5L798.3 420.5L794.4 418.5L795.4 416.5L794.5 413.5L790.5 411.7L788.7 405.5L786.2 403.5L785.7 400.5L786.3 399.5L782.7 397.5L782.4 394.5L779.6 392.5L782.9 388.5L775.7 382.5L775.8 380.5L772.1 376.5L772.7 373.5L769 370.5L768.9 366.5L770.6 364.5L765.5 363L760.5 359.8L754.8 359.5L760 356.5L760.5 355.3L751.6 356.5L751.3 357.5L753 359.5L752.3 360.5L757.3 363.5L757 364.5L750.5 365.1L746.5 368.1L742.5 368.3L740.6 370.5L741.5 371.1L745.5 369.6L747.5 371.5L741.8 378.5L742.5 381.4L744.5 382.5L736.7 386.5L737.5 388.5L735.6 390.5L735.6 392.5L733.7 395.5L736.3 399.5L735.5 400.4L731 400.5L731.4 402.5L728.5 404L728.7 405.5L726.9 408.5L727.3 410.5L723.7 413.5L727.5 415.5L724.5 417.5L720.5 418.2L720 419.5L721.6 420.5L719.5 423.4L716.8 424.5L715.1 430.5L710.8 431.5L710.1 432.5L712.5 433.7L717.5 432.7L733.5 435.2L780.4 435.5ZM401.4 360.5L402.1 359.5L400.5 357.5L399.5 357.5L397.9 359.5L398.5 360.8L401.4 360.5ZM418.9 435.5L436.1 434.5L437.9 433.5L439.6 430.5L435.2 428.5L435.8 426.5L433.5 423.9L429 422.5L429.8 420.5L427.8 417.5L428.5 416.1L432.5 413.5L426.5 413.1L426.2 410.5L421.4 409.5L423.5 408.4L425.5 408.9L429.5 406.2L430.3 403.5L422.3 401.5L423.8 399.5L427.9 397.5L427.5 395.8L422.3 394.5L423.6 393.5L422.5 392.8L415.9 391.5L417.5 389.1L421.5 389L425.6 387.5L419.5 385.5L420.5 381.5L414.4 381.5L413.6 379.5L411.5 378.5L411.6 377.5L415.9 375.5L414.5 374L410.6 374.5L410.8 373.5L414.5 372.2L415.3 370.5L410.4 367.5L412 365.5L404.8 364.5L409.5 364L410.5 362.2L408.5 361.5L402.5 363.4L395.8 363.5L394 365.5L395.3 367.5L389.4 370.5L389.6 371.5L384.5 373.3L387.5 376.5L385.5 377.8L380 378.5L375.4 382.5L380.7 384.5L381.3 386.5L378.2 388.5L378.1 389.5L382.7 391.5L381.9 394.5L385.2 396.5L379.2 400.5L380.9 402.5L380 403.5L374.5 406.9L371 407.5L378.5 407.9L380.4 409.5L376.5 411.3L376.5 414.2L371.4 416.5L370.5 420.5L367.7 423.5L369.5 426.7L367.5 427.4L364.5 426.2L362.2 426.5L361.8 427.5L364.4 429.5L362.8 431.5L366.5 432.9L395.5 433.3L402.5 435.4L410.5 434.8L416.5 436.1L418.9 435.5ZM402.5 369.6L398.5 369.8L395.6 367.5L398.5 365.9L403.5 365.4L402.1 367.5L402.5 369.6ZM425.4 367.5L424.5 366.3L420.5 365.9L418.3 367.5L419.5 368.2L425.4 367.5ZM430.1 369.5L432.4 368.5L427.5 366.3L427.1 368.5L430.1 369.5ZM385.5 383.6L384.5 383.5L385.6 379.5L386.5 377.9L387.5 378.1L388.6 379.5L386.5 383.3L385.5 383.6ZM433.5 381.5L434.9 380.5L433.5 378.7L429.9 380.5L430.5 381.7L433.5 381.5ZM371 399.5L368.5 397.7L366.2 398.5L367.5 399.7L371 399.5ZM816.5 400.9L812.5 401.2L811.6 400.5L812.5 399.4L815.5 399.1L816.8 399.5L816.5 400.9ZM424.5 415.5L421.9 414.5L427 414.5L424.5 415.5ZM436 420.5L436.7 419.5L435.1 418.5L432.5 418.4L431.7 419.5L436 420.5Z"/>
<path fill="rgb(22,118,238)" fill-rule="evenodd" d="M734.5 260.8L732.5 261.5L727.5 260.4L722.3 257.5L722.5 256.3L727.5 257.5L729.5 256.7L726.9 254.5L726.1 252.5L729.5 249.3L726.6 246.5L718.5 242.6L715.8 242.5L715.5 241.1L720 238.5L715.9 236.5L714.5 233.9L710.1 233.5L713.5 233.3L715.5 231.7L711.5 229.5L713.5 227.8L717.5 229.1L720 228.5L720.2 227.5L715.5 226.3L712.5 228.3L707.5 227.7L707.5 226.3L713.6 223.5L703.5 219.5L702.5 217L696.9 214.5L697.5 213.5L693.5 209.1L688.9 206.5L684.3 205.5L685.2 203.5L684.5 202.9L657.5 194.4L644.5 193.2L639.5 195L632.5 195.3L626.5 193.8L606.5 193.9L601.5 193.2L573.5 194.9L568.5 194L553.5 194.2L545.5 192.3L534.5 192.1L518.5 193.5L510.5 193.1L505.5 194.9L492.3 195.5L481.5 197.1L476.5 200.8L468.8 201.5L468.9 203.5L471.8 204.5L471.2 205.5L467.5 204.9L460.4 206.5L464.5 207.2L466.3 209.5L464.5 210.5L460.5 209.2L461.1 210.5L459.9 214.5L457.5 214.8L455.5 212.5L453.5 212.2L449.7 212.5L448.5 213.7L445.5 213.6L444.5 215.8L449.5 217.3L449.6 218.5L444.7 220.5L444.3 221.5L446.4 222.5L440.8 226.5L446.1 228.5L446.1 230.5L444.5 231.7L438.5 231.9L436.3 235.5L436.6 236.5L438.5 237.3L443.5 236.4L447 237.5L446.6 238.5L441.5 239.3L441.3 240.5L439.5 241.1L436.5 238.6L430.5 238.6L428.9 239.5L429.5 240.7L426.5 242L420.5 241L419.6 239.5L421.1 236.5L423.5 235.5L433.4 236.5L432.8 234.5L436.2 231.5L435.3 229.5L427.5 229.7L426.8 228.5L434.5 225.7L435.6 224.5L433.5 223.1L428.3 223.5L430.4 220.5L434.5 221.2L438.5 217.5L433.4 210.5L441.3 208.5L439.5 207.2L435.5 207.9L434.3 206.5L435.2 203.5L437.5 201.7L443.4 200.5L440.5 198.8L440.1 197.5L443 195.5L438.5 191.7L433.5 190.8L425.5 191.9L404.5 191.5L401.5 192.3L396.5 191.5L386.5 193L381.5 191.8L376.5 194.1L359.5 191.8L357.5 194.5L363.9 200.5L361.6 204.5L365.5 206.7L367 210.5L363.5 211.1L358.5 210.2L356.7 211.5L361.5 213.4L366.5 212.8L367.6 214.5L362.5 217.1L359.5 216.5L351.5 218.7L346 214.5L348.5 210.5L347.5 208.9L339 211.5L340.8 209.5L339.5 206.7L330.5 204.7L325.3 199.5L316.5 198.1L310 195.5L264.5 194.6L254.5 192.3L241.5 194.1L223.5 192.1L215.5 193L172.5 192.1L170.1 188.5L169.9 179.5L171.5 176.2L175.5 174.8L197.5 175.6L211.5 174.3L217.5 175.7L236.5 174.9L272.5 175.8L294.5 175.4L307.5 176.5L335.5 173.9L340.5 174.8L359.5 175.2L380.5 174.5L387.5 176L404.5 176.8L406.7 176.5L409.5 174.3L419.5 175.1L425.5 173.8L429.1 176.5L431.5 176.7L442.5 174.2L447.5 175L464.5 174.7L471.5 176.1L478.5 176.3L487.5 174.3L497.5 174.7L509.5 173.6L514.5 174.7L523.5 173.8L529.5 175.9L545.5 174.5L559.5 175.4L607.5 175.5L617.5 173.5L634.5 173.7L639.5 175.5L647.5 176.4L668.9 176.5L679.5 174.4L684.5 175.1L692.5 174.2L695.5 175.4L705.5 176.1L714.5 174.9L723.5 175.8L730.5 175L734.5 176.6L751.5 176.6L759.5 174.2L778.5 176.4L807.5 174.5L818.5 175.1L828.5 173.7L838.5 176.6L860.5 176.2L869.5 174.4L877.5 174.6L879 175.5L880.2 185.5L879.7 190.5L878.5 192.5L869.5 193.4L864.5 196.2L852.5 197.3L845.5 196.9L842.5 198.9L838.4 199.5L837.5 202.1L831.5 203.3L825.9 206.5L825.3 210.5L821.4 211.5L819.5 213.2L816.5 213.3L813.2 215.5L811.8 218.5L808.1 219.5L809.5 220.3L814.5 219.5L815.1 220.5L809.5 222.1L808.8 223.5L811.1 226.5L805 228.5L804.8 230.5L803.1 231.5L807.3 233.5L802.7 235.5L798.8 239.5L798.3 241.5L801.3 243.5L798.5 244.2L795.5 244.1L794.6 241.5L792.2 239.5L785.5 239.3L782.5 237.5L784.5 236.7L788.5 237L791.4 235.5L790.5 234.1L784.1 232.5L787.7 229.5L787.3 227.5L789.5 223.5L791.5 222.5L797.5 223.3L802 220.5L801.5 218.6L795.5 220.1L792.2 219.5L794.2 216.5L794.1 214.5L796.4 212.5L796.5 209.7L798.6 208.5L801 204.5L803.5 203L804.3 201.5L803.5 199.4L809.5 195.2L810.9 192.5L799.5 190.6L783.5 190.7L775.5 192.3L769.5 190.6L758.5 190.9L748.5 192.3L738.5 190.4L725.5 191.3L714.7 193.5L712.1 195.5L712.4 198.5L710.1 200.5L718.5 201.6L719.5 202.5L718.7 204.5L719.2 205.5L723.5 208.5L720.6 209.5L720.5 210.5L724.6 212.5L722.6 216.5L727 218.5L721.4 220.5L722.5 221.7L729.5 222.3L730.7 223.5L729.5 224.8L724.5 225.5L723.9 226.5L724.4 227.5L727.4 228.5L726.7 232.5L737.1 236.5L736.5 237.5L731.5 238.9L726.5 237.9L724.8 238.5L723.9 240.5L730.5 243.2L733.5 245.5L741.7 247.5L741.5 248.5L738.5 250.5L733.5 249.5L734.5 251.9L741.2 252.5L738.4 254.5L738.5 255.5L741.4 256.5L736.7 258.5L734.5 260.8ZM457.5 218L452.3 217.5L451.4 215.5L454.5 214.5L457.5 216.7L458.1 217.5L457.5 218ZM365.5 225.5L362.5 225.9L358.8 224.5L359.4 222.5L356.4 220.5L356.3 219.5L362.4 220.5L364.5 217L372.7 219.5L371.5 221.1L366.5 222.4L365.5 225.5ZM451.5 222.8L448 222.5L450.5 221.7L451.5 221.8L451.5 222.8ZM355.5 224.5L352.5 224.7L351.2 223.5L354.8 223.5L356.3 224.5L355.5 224.5ZM799.7 228.5L800.1 225.5L797.5 224.6L795.9 225.5L796.5 229L799.7 228.5ZM374.5 229.5L368.5 230.4L366.6 229.5L368.5 228L374.5 229.5ZM357.5 231.6L353.6 231.5L358.5 229.4L361.7 229.5L361.5 230.8L357.5 231.6ZM796.8 237.5L798.6 236.5L797.7 233.5L799.5 231.5L798.5 230.9L796.5 231.3L794.5 236.5L796.8 237.5ZM378.5 236.6L376.3 236.5L376.5 235.5L379.5 234.5L380.4 235.5L378.5 236.6ZM370.5 240.6L368.7 240.5L372.5 238.6L374.3 239.5L370.5 240.6ZM783.5 246L781.5 246.3L781.1 245.5L780 242.5L781.5 240.8L786.3 241.5L785.2 244.5L783.5 246ZM803.5 243L801.5 243.4L800.8 241.5L803.3 241.5L803.5 243ZM430.5 245.2L426.5 244.5L428.5 243.3L430.4 243.5L431.3 244.5L430.5 245.2ZM376.5 245.7L374.8 245.5L374.9 244.5L376.9 244.5L376.5 245.7ZM794.5 252.9L792.5 252.6L789.9 250.5L791.5 249.5L791.5 248.5L789.5 247.5L790.1 246.5L794.5 246.4L795.5 247.5L795 249.5L796.1 251.5L794.5 252.9ZM368.5 249.8L364.5 248.6L364.8 247.5L368.7 247.5L370.1 248.5L368.5 249.8ZM778.5 256.6L775.5 257.3L772.3 256.5L777.5 251L783.5 250.1L786.4 251.5L786.2 252.5L778.5 256.6ZM381.5 260.2L374.5 260.4L372.8 259.5L375.4 257.5L374.7 256.5L376.5 255.8L381.5 259L381.5 260.2ZM190.5 454.6L181.5 452.3L171.5 451.6L170 448.5L169.7 443.5L169.9 439.5L171.5 435.2L194.5 434.5L209.5 435.5L215.5 434.6L224.5 435.3L246.5 432.7L260.5 433.5L267.5 431.8L278.5 433L290.5 432.3L296.5 433.6L304.5 432.5L311.5 432.6L327.5 427.5L331.5 423L337.3 418.5L336.3 417.5L336.5 416.2L340.5 415L344.5 415.4L349.3 412.5L349.5 410.5L351.5 411.2L354.2 410.5L350.8 407.5L346.2 406.5L346.9 404.5L348.5 403.7L356.5 404.6L359.5 406.6L366 406.5L365.5 407.6L361.2 408.5L360.8 409.5L362.9 411.5L361.8 412.5L362 414.5L365 417.5L364.5 419.7L363.4 420.5L366.1 422.5L365.4 424.5L359 426.5L354.8 429.5L357.5 429.5L359 432.5L363.5 434.4L395.5 434L402.5 436.5L409.5 435.5L416.5 437L421.5 435.8L446.5 434.6L445.5 433.6L441.5 433.8L441.4 432.5L442.8 431.5L438.7 428.5L438 427.5L438.8 426.5L435.8 424.5L440.8 423.5L441.3 422.5L439.6 420.5L439.9 419.5L442.7 418.5L444.3 416.5L438.5 417.2L433.3 416.5L435.5 415.3L436.5 412.7L441.5 412.6L443.8 409.5L437.5 408.5L435.5 406.5L432.5 406.1L432.5 404L436.4 403.5L434.5 401.6L426.9 400.5L427.4 399.5L430.5 398.4L440.5 399.9L445 402.5L445.6 404.5L443.6 406.5L446.5 407.9L456.5 408.6L457.6 410.5L457.1 411.5L454 412.5L454.8 413.5L459.2 414.5L456.3 416.5L456.4 418.5L465.5 421.2L468.5 421.1L480.5 429.5L487.5 429.9L491.5 431.9L500.5 433.8L508.5 433.7L513.5 432.5L532.5 434.6L541.5 433L550.5 433.5L556.5 435.4L562.5 434L579.5 434.7L603.5 433.8L619.5 434.6L624.5 433.8L642.5 434.1L654.5 432.6L663.5 429.2L667.5 429.3L675.5 427.5L680.3 424.5L680.7 422.5L686.7 421.5L693.4 418.5L692.9 417.5L694 414.5L699.1 412.5L698.6 410.5L705.5 412L711.5 410.7L718.5 411.7L720.8 410.5L720.5 409.3L714.5 408.9L712.9 407.5L714.1 405.5L717.1 404.5L716.1 403.5L713.3 403.5L711.4 405.5L711.2 407.5L708.5 408.8L703.8 407.5L702.6 405.5L705.5 402.5L706.2 399.5L707.3 398.5L720.1 396.5L717.5 394.5L717.7 391.5L716 390.5L716.1 389.5L719.2 387.5L715.1 384.5L722.5 379.5L722.8 376.5L720.3 375.5L720.5 373.9L721.5 372.7L723.5 372.3L726.6 368.5L729.8 366.5L728.5 364.8L723.5 364.5L723.7 363.5L734.1 361.5L733.8 360.5L730.5 359.2L727.9 356.5L731.5 356.4L737.5 358.6L741.6 358.5L739.5 358.2L737.5 355.1L734.5 353L731.6 352.5L731.5 351.5L733.5 350.5L731.2 348.5L732.5 347.6L735.5 347.7L736.8 346.5L734.1 345.5L734 341.5L735.5 340.2L737.5 340.3L740.5 342.4L744.5 343.5L744.8 341.5L741.5 338L739.5 337.5L736.5 338.8L735 337.5L737.1 331.5L742.8 328.5L743.1 327.5L741 325.5L745 322.5L744.9 321.5L742.6 320.5L742.7 319.5L746.4 316.5L743.5 313.5L744.5 311.5L747.8 309.5L743.5 308.1L741.5 306.5L740.8 304.5L738.9 303.5L740.5 299.3L749.9 295.5L741.8 295.5L741.1 293.5L736 290.5L739.5 286.5L740.5 283.8L738.4 282.5L738 280.5L733.6 277.5L742.5 274.7L743.6 273.5L739 270.5L738.3 268.5L733.5 267.4L732.5 265.5L733.5 264.7L736.5 265.4L743.5 264.3L745.4 262.5L743.9 259.5L746.5 256.9L748.4 258.5L745.6 262.5L749.5 263.8L750.4 265.5L745.5 266.3L744.1 268.5L745.5 269L748.5 267.4L751.1 268.5L750.9 269.5L754 271.5L754.2 272.5L750.7 273.5L751.5 274.7L759.5 276.2L763.5 275.2L766.5 276.7L775.5 275.2L776.6 278.5L779.3 278.5L779.5 277.1L781.5 276.8L785.1 280.5L774 286.5L776.5 288.5L775.5 291.5L775.8 294.5L779 296.5L776.5 298.5L778.6 301.5L774.3 304.5L775.1 308.5L772.8 310.5L773.5 312.2L775.6 313.5L774.3 318.5L775.2 319.5L774.6 322.5L775.8 324.5L775 325.5L778.5 326.4L779.4 328.5L783.1 330.5L780.5 332.5L774.7 333.5L776.1 335.5L775 338.5L776.8 343.5L784.1 347.5L782.4 349.5L783.8 351.5L776.5 355.1L775.7 356.5L779.5 360L788.5 361.4L790.4 362.5L788 363.5L786.1 366.5L789.6 368.5L788.2 371.5L792.1 372.5L793.7 374.5L798.9 376.5L800.4 380.5L796.8 383.5L803.3 389.5L803.4 392.5L802 393.5L802.3 394.5L806.4 395.5L806.7 396.5L804.5 398.5L807.2 401.5L806.5 403.9L807.5 404.6L810.5 403.1L813.2 403.5L814.4 404.5L813.8 406.5L810.5 406.9L810.2 408.5L823.5 414L824.3 414.5L821.9 416.5L822.5 417L828.5 417.6L829.7 420.5L843.6 427.5L864.5 431.8L868.5 433.6L878.5 434L879.8 436.5L880.3 441.5L879.9 448.5L877.5 453.7L871.5 451.1L855.5 451.8L851.5 450.3L818.5 451.4L800.5 451.1L791.5 452.5L773.5 452.1L763.5 450.4L758.5 451L730.5 450.6L726.5 451.9L718.5 450.1L714.5 451.6L707.5 451.8L696.5 451.8L691.5 450.3L674.5 451.3L663.5 450.5L646.5 451.7L635.5 451.4L629.5 453.1L609.5 453.1L600.5 451.1L587.5 452.3L582.5 454.3L550.5 453.3L539.5 454.3L529.5 453.1L509.5 453.5L487.5 452.1L483.5 452.9L476.8 450.5L471.5 450.1L453.5 451.2L448.5 450.5L441.5 451.5L436.5 450.5L428.5 450.5L424.5 452.4L407.5 452.9L395.5 450.8L384.5 451.3L376.5 450.1L368.5 451.9L361.5 450.5L356.5 451.3L352.5 450.7L347.5 452.7L339.5 452.3L329.5 450.5L308.5 451.8L302.5 450.5L294.5 452.3L291.5 451.5L278.5 451.2L270.5 453.4L264.5 453.6L258.5 452.5L241.5 451.9L233.5 453.8L195.5 453.5L190.5 454.6ZM421.5 261.1L417 260.5L421.5 258.2L423.5 258.2L421.5 261.1ZM781.5 275.9L776.5 275L774.5 273.5L766.5 273.7L764.5 272.5L764.6 271.5L765.5 270.3L771.4 268.5L771.9 266.5L770.1 264.5L770.3 262.5L782.5 260.1L790.5 259.6L791.4 260.5L788.1 263.5L789.3 266.5L782.5 267.2L780.3 269.5L784.5 269.9L785.9 271.5L785.8 272.5L781.5 275.9ZM383.5 266.6L379.9 264.5L380.3 263.5L382.5 261.8L388.3 261.5L385.5 263L383.5 266.6ZM739.5 262.6L737.5 262.7L736.3 261.5L738.5 260.8L741.8 261.5L739.5 262.6ZM415.5 273.6L411.5 273.8L410.5 273.5L410.6 272.5L414.5 267.2L419.5 265.7L420.5 266.5L418.3 271.5L415.5 273.6ZM405.5 275.6L402.7 274.5L403 272.5L402.2 271.5L403.5 271.1L406.5 273L410.4 273.5L405.5 275.6ZM375.5 274.8L372.5 274.6L371.4 273.5L375.5 273.4L375.5 274.8ZM421.5 279.6L412.5 280L410.1 277.5L411.5 276.4L419.4 276.5L420.3 274.5L422.5 273.2L426.9 274.5L421.1 276.5L421.5 279.6ZM403.5 355.3L400 352.5L400.1 350.5L399.3 349.5L395.5 348.6L393.7 350.5L392.5 350.3L392 349.5L395.5 348L393.7 344.5L387.5 343.3L382.6 344.5L382.5 345.6L380.9 343.5L384.5 339.9L388.5 342.1L392.8 340.5L391.7 339.5L392.7 338.5L392.2 337.5L386.5 336L385.3 334.5L386.5 332.9L391 331.5L391.7 330.5L387.5 330.5L383.5 333.1L380.8 331.5L381.2 329.5L379.4 327.5L380.5 326.3L388.8 325.5L389.1 324.5L385.5 325.1L381.2 322.5L382.5 321.2L387.5 320.8L388.2 319.5L387 316.5L383.5 313.5L386.7 310.5L386.8 308.5L385.6 306.5L387.1 302.5L381.8 299.5L382.5 297.9L385.8 296.5L382.9 295.5L382.7 294.5L386.4 292.5L387 291.5L385.3 289.5L385.6 288.5L389.5 285.9L390.2 284.5L389.5 282.7L382.4 281.5L384.5 280.7L388.5 281.4L391.1 280.5L390.5 279.5L385.3 278.5L382.9 275.5L383.5 273.7L385.7 275.5L390.5 276L392.5 277.6L398.5 278L399.5 278.5L399.5 280L402.5 278.5L405.5 278.6L411.9 283.5L410.3 287.5L408.7 288.5L408.7 289.5L410.8 290.5L407.5 292.3L407.7 293.5L411.5 294.2L412.6 292.5L414.8 291.5L420.5 291.2L421.5 291.5L420.8 292.5L417.7 293.5L417.7 294.5L423 295.5L421.5 297.2L419.5 295.7L417.5 296.1L414.5 299.2L408.4 300.5L413.5 301.7L415.5 300.8L417.4 301.5L412.7 304.5L412.6 305.5L416.3 306.5L414.5 306.7L414.5 308.7L419.7 309.5L419.5 310.5L416.5 312.2L411.3 312.5L409.4 315.5L411.5 315.9L415.5 314.6L417.5 315.3L417.4 316.5L414.9 318.5L419.9 322.5L418.5 324.4L415.1 325.5L418.5 324.7L419.9 325.5L418.5 327.5L416 328.5L416 330.5L412.8 333.5L417.9 336.5L412.1 337.5L416.4 342.5L414.4 346.5L417.6 353.5L414.5 354.3L404.8 350.5L405.5 349.5L411.9 349.5L410.5 347L403.5 347L401 350.5L402.6 353.5L404.4 354.5L403.5 355.3ZM397.5 275.6L395.4 274.5L400.1 274.5L397.5 275.6ZM758.2 281.5L760.2 280.5L760.5 279.3L750.5 278.8L750.9 280.5L753.5 281.9L758.2 281.5ZM756.8 286.5L758.6 285.5L757.5 284.3L753.4 284.5L753.5 286L756.8 286.5ZM783.5 340.6L779.5 339.7L778.7 338.5L783.5 337.3L784.6 339.5L783.5 340.6ZM381.5 339.7L379.5 339.8L379.1 338.5L381.5 338.1L381.5 339.7ZM403 344.5L403 343.5L401.5 343.2L399.9 343.5L399.7 344.5L403 344.5ZM760.1 346.5L759.9 345.5L758.5 345.2L757.3 346.5L760.1 346.5ZM736.9 351.5L738.9 350.5L736.5 349.4L733.5 350.5L735.5 351.8L736.9 351.5ZM383.5 351.8L380.5 352.3L379.2 350.5L380.5 349.5L383.5 349.6L384.3 351.5L383.5 351.8ZM757.9 352.5L758.9 351.5L757.5 350.2L750.9 351.5L753.5 353.1L757.9 352.5ZM774.5 436.5L789.5 435.9L793.5 436.5L803.5 434.9L808.6 432.5L809.4 430.5L807.5 427.5L804.3 426.5L803.6 425.5L804.1 423.5L799.5 422L799.5 420.5L797.7 418.5L800.2 415.5L797.5 414.1L795.1 410.5L790.5 407.5L791.5 404.8L795.4 404.5L794.9 403.5L789.5 403.4L788.2 402.5L793.2 400.5L791.5 397.5L792.7 395.5L790 391.5L790.1 389.5L787.6 387.5L790.5 387.1L792.2 385.5L792 384.5L789.8 383.5L783.7 382.5L784.4 380.5L783 376.5L783.4 374.5L785.5 372.5L784.5 371.8L776.5 374.1L775.5 370.1L771.4 370.5L770.6 367.5L772.5 366.1L774.5 366L774.8 363.5L773.5 362.4L768.5 362.9L766.6 361.5L766.5 360L771.5 359.8L772.5 358.5L769.5 354.9L764.5 354.7L769.2 353.5L768.8 351.5L765.5 351.2L762.4 353.5L755.5 354.8L751.5 354.2L746 356.5L746.2 357.5L750.3 359.5L749.5 359.8L740.5 359.8L736 361.5L736.3 362.5L732.5 364.5L735.5 365.9L735.2 367.5L736.5 369.5L727.5 373.8L724.8 373.5L731.2 378.5L735.5 378L736.5 379.3L734.9 381.5L736 384.5L732.8 387.5L732 389.5L734 392.5L730.3 395.5L732.8 397.5L732.5 398.5L725.5 402.5L724.2 406.5L725 410.5L719.5 415.3L715.8 416.5L715.9 418.5L714.4 419.5L718.8 421.5L713.5 423L714 426.5L709.5 429.2L707.9 431.5L708 432.5L712.5 435.5L718.5 434.1L733.5 435.9L774.5 436.5ZM374.5 355.7L373.1 353.5L376.3 353.5L376.4 354.5L374.5 355.7ZM379.5 356.7L376.2 356.5L376.8 354.5L380.1 353.5L379.5 356.7ZM386.5 354.6L381.8 353.5L385.5 352.5L388.2 353.5L386.5 354.6ZM414.5 358.7L413.1 358.5L413.5 356.7L416.5 356.2L414.5 358.7ZM387.5 368.6L383.5 369.1L381.5 368.3L379.5 369.4L377.5 369.1L375.7 367.5L376.5 364.5L374.7 363.5L377.5 362.5L383.5 363.6L392.5 360.6L396.1 361.5L387 364.5L389.6 367.5L387.5 368.6ZM747.5 365.8L738.7 364.5L741.5 362.2L744.5 364.1L749.5 362.9L750.2 363.5L747.5 365.8ZM754.5 363.6L750.8 363.5L750.2 362.5L752.5 362.2L754.5 363.6ZM382.5 375.9L380.5 376.4L378.5 374.4L376.5 375.1L370.5 374.2L366.7 370.5L368.5 369.2L372.5 371.7L380.5 372L382.5 375.9ZM430.5 372.9L423.5 372.7L418.6 370.5L422.5 369.3L428.5 370.5L431.4 371.5L430.5 372.9ZM737.5 375.8L735.5 376.2L734.8 375.5L736.5 374.7L737.5 375.8ZM427.5 378.6L418 378.5L425.5 376L428.9 376.5L429.1 377.5L427.5 378.6ZM357.5 400.5L354.5 401.2L349.7 399.5L357.5 399.3L359.1 397.5L358.8 395.5L359.7 394.5L364.5 393.2L363.5 389.1L362.5 387.7L361.1 387.5L365 385.5L366.6 380.5L370.5 378.7L371.5 377.2L374.5 378.5L370.8 383.5L372.9 384.5L370.5 385.1L368.7 384.5L369 383.5L367.4 383.5L367.5 385.5L372 388.5L370.3 390.5L371 391.5L365.5 394.2L362.5 400L357.5 400.5ZM778.5 379.6L776.7 379.5L774.5 377.5L775.5 376.8L777.7 377.5L778.8 378.5L778.5 379.6ZM423.5 384.9L421.8 384.5L423.5 381.8L425.5 381L427.7 382.5L423.5 384.9ZM781.5 384.8L779.5 384.4L778.8 382.5L782.3 382.5L782.8 383.5L781.5 384.8ZM440.5 383.7L438.5 384.3L437.4 383.5L438.5 382.8L440.5 383.7ZM730.6 391.5L724.9 388.5L725.5 387.4L729.5 386.2L729.7 383.5L723.7 383.5L725 386.5L721.9 388.5L722.5 390.5L728.5 392.4L730.6 391.5ZM807.5 388.1L805.5 388L803.7 386.5L806.5 385.2L808.2 386.5L807.5 388.1ZM426.5 390.6L422.1 390.5L425.5 389.4L429.9 389.5L426.5 390.6ZM434.5 396L432.5 395.8L429.5 392.5L432.5 390.8L435.5 391.7L436.7 393.5L434.5 396ZM443.5 395.8L440 394.5L444.5 392.5L446.8 393.5L443.5 395.8ZM447.5 401.5L445.5 400.7L444.9 399.5L447.6 399.5L448.3 400.5L447.5 401.5ZM369.5 403.8L366.5 404.1L360 402.5L364.5 400.3L369.9 402.5L369.5 403.8ZM432.5 411L429.5 411.1L428.5 408.7L433.5 406.7L437.5 408.5L434.5 409.1L432.5 411ZM371.5 413.5L365 411.5L373.5 409.8L374.1 410.5L371.5 413.5ZM343.5 418.5L343.9 417.5L342.5 416.8L339.7 418.5L343.5 418.5ZM468.5 425.5L468.1 424.5L466.2 424.5L466.1 425.5L468.5 425.5Z"/>
<path fill="rgb(0,64,232)" fill-rule="evenodd" d="M702.5 203.7L700.5 204L697.5 201.5L693.5 201.5L688.5 199.1L681.5 199.1L672.5 196.1L651.5 191.8L632.5 193.2L627.5 192.3L600.5 191.9L574.5 192.9L569.5 192L557.5 192L552.5 192.8L546.5 191.1L534.5 190.7L510.5 191.9L504.5 193.3L492.5 193.3L482.5 194.8L471.5 194.2L464.5 196.5L465.9 198.5L464.5 199.8L461.5 200.3L460 199.5L463.3 196.5L452.7 192.5L449.8 190.5L437.5 188.8L413.5 190L395.5 189.6L389.5 191.3L384.5 190.1L375.5 190.8L372.5 189.9L359.5 189.2L348.8 191.5L349 192.5L346.5 193.5L336.9 194.5L336.5 197L325.5 196L318.5 196.8L313.5 194.3L307.5 193.3L281.5 193.8L276.5 192.9L263.5 192.7L258.5 191L252.5 190.5L242.5 192.6L232.5 191.2L209.5 190.5L174.5 191L171.5 190.1L170.1 184.5L171.5 177.6L176.5 176.5L294.5 176.9L311.5 178L333.5 175.5L337.5 177.4L346.5 177.1L351.5 178L357.5 176.8L374.5 177.6L380.5 176.6L385.5 177.9L398.5 178.5L425.5 177.6L432.5 178.6L437.5 177.4L449.5 177.9L455.5 176.8L465.5 177L473.5 178.3L480.5 177.9L484.5 176.2L522.5 175.4L530.5 177.6L587.5 176.2L608.5 176.9L613.5 175.5L634.5 175.3L646.5 177.5L669.5 178.1L690.5 177.1L697.5 177.9L700.5 177.2L708.5 178.7L712.2 178.5L714.5 176.3L722.5 178L729.5 177L748.5 178.7L758.5 176.5L763.5 177.5L772.5 177L780.5 178.5L811.5 176.5L819.5 177.1L829.5 176.4L835 178.5L839.5 178.8L845.5 177.8L860.5 178L868.5 176L877.5 175.9L878.5 176.5L879.7 182.5L879.2 189.5L877.5 191.6L869.9 191.5L864.5 193.3L859.3 193.5L852.5 195.4L844.5 195.1L839.5 197.1L830.5 197.1L829.1 198.5L829.8 199.5L826.5 200.9L816.5 202.8L813.5 202L813.2 200.5L817.1 198.5L815.5 194.5L821.9 192.5L819.2 190.5L807.5 188.8L770.5 189.2L761.5 188.4L749.5 190.1L733.5 188.4L701.8 191.5L700.5 192.5L700.8 193.5L705.8 196.5L706.5 197.5L703.7 199.5L707 202.5L702.5 203.7ZM350.5 197.8L343.5 198.2L339.4 196.5L348.5 196L350.9 196.5L350.5 197.8ZM759.5 292.6L755.2 292.5L754 291.5L757.5 290.9L760.9 291.5L759.5 292.6ZM768.5 301.5L764.5 302L754.5 299.8L753.7 298.5L758.5 297.3L760.5 299.2L767.5 300.4L768.5 301.5ZM408.5 307.6L400.5 307.7L398.1 306.5L404.5 303L405.9 303.5L406.1 305.5L408.5 307.6ZM765.5 305.6L762.5 306.4L761.8 305.5L764.5 304.4L765.5 304.6L765.5 305.6ZM764.5 313.6L759.5 311.9L758.8 310.5L762.5 310.1L766.5 312.5L764.5 313.6ZM756.5 318.8L754.5 318.5L751.6 316.5L754.5 312.6L758.8 313.5L756.1 316.5L757.1 318.5L756.5 318.8ZM758.5 330.8L755.5 330.5L754 328.5L755.6 325.5L757.8 324.5L758.5 319.4L761.5 316.4L763.5 316.3L765.4 318.5L765.2 320.5L766.5 323.3L760.3 324.5L761.5 328.5L758.5 330.8ZM760.5 335.5L757.5 335.5L756 334.5L762.5 332.1L765.2 332.5L764.5 334L760.5 335.5ZM812.5 415.7L811.1 415.5L811.1 414.5L813.5 413.9L814.1 414.5L812.5 415.7ZM575.5 452.7L549.5 451.5L542.5 452.4L529.5 450.9L522.5 451.7L511.5 450.8L499.5 451.2L470.5 448.5L454.5 449.1L448.5 448.3L442.5 450.2L435.5 448.5L426.5 449.1L423.5 450.5L418.5 449.9L410.5 450.9L397.5 448.6L354.5 448.8L341.5 450.9L326.5 448.7L312.5 450L300.5 449.1L295.5 450.1L277.5 450.1L269.5 452.3L242.5 450.4L233.5 452.2L219.5 451.2L213.5 452.2L195.5 451.7L189.5 452.9L171.5 449.8L170.2 443.5L170.9 438.5L172.5 436.5L196.5 435.9L226.5 436.8L245.5 434.5L254.5 435L271.5 434.1L276.5 435L284.5 434.5L295.5 435.3L311.5 434.5L326.5 430.6L335.5 429.4L340.5 430.7L338.6 429.5L345.5 424.5L342.7 422.5L345.5 421.9L348.5 422.5L346.6 427.5L349.6 429.5L345.5 430.9L343.7 432.5L349.1 433.5L351.5 435.8L380.5 437.8L383.5 437.5L385.5 436L391.5 436.9L396.5 436.2L401.5 438L409.5 438.7L422.5 437.2L451.5 437.2L453.4 436.5L456.3 433.5L456.3 432.5L453.4 431.5L451 427.5L453.5 426.3L463.7 429.5L469.5 429.7L482.2 433.5L489.5 433.5L499.5 435.4L508.5 435.1L513.5 434L531.5 436.4L538.5 434.8L547.5 434.6L556.5 436.4L605.5 436.3L611.5 435.3L617.5 436.1L626.5 435.3L647.5 435.7L665.5 431.9L677.5 431.3L680.2 429.5L690.5 427.6L692 426.5L688.3 423.5L689.5 423.1L693.5 423.9L702.8 428.5L703.3 429.5L702.5 431L696.5 432L695.8 433.5L698.5 435.5L703.5 436.6L707.5 436.1L711.5 437.6L719.5 436.2L730.5 437.8L757.5 437.3L764.5 438.4L779.5 437.5L792.5 438.5L796.5 437.7L801.5 438.1L806.5 436.9L815.5 437.5L818.4 436.5L819.7 435.5L818 433.5L819.2 429.5L813 426.5L820.5 424.1L825.5 426.9L836.5 428.4L840.5 430.1L846.5 430.4L847.1 431.5L850.5 432.4L867.5 435L877.5 435.3L878.9 436.5L879.8 441.5L879.2 448.5L877.5 451L871.5 449.6L857.5 450L852.5 448.6L841.5 449.2L829.5 448.1L819.5 449.8L814.5 448.8L774.5 449.7L762.5 448.4L756.5 449.6L739.5 448.4L732.5 449.2L727.5 448.3L722.5 449.2L716.5 448.5L700.5 449.9L691.5 448.3L686.5 449.2L670.5 449.5L638.5 449.1L623.5 451.4L610.5 451.2L599.1 449.5L579.5 451.4L575.5 452.7ZM702.5 422.7L697.9 422.5L701.5 421.5L702.5 422.7Z"/>
<path fill="rgb(0,0,225)" fill-rule="evenodd" d="M696.5 198.8L690.3 197.5L689.2 195.5L681.4 195.5L680.5 196.6L678.5 196.8L674.5 195.1L667.8 194.5L661.5 192.5L652.5 191.1L632.5 192.2L600.5 191.3L574.5 192L557.5 191.3L552.5 192L546.5 190.4L534.5 190.2L478.5 193.9L472.5 192.7L462.5 194.5L460.3 191.5L456.9 190.5L436.5 187.9L428.5 188.7L418.5 187.9L412.5 189L359.5 188.3L345.3 190.5L329.5 194.8L319.5 193.7L318.5 195.6L312.5 193L287.5 192L268.5 192.4L258.5 190.3L251.5 189.9L242.5 191.7L231.5 190.5L210.5 190L174.5 190.4L171.5 189.4L170.4 184.5L170.8 179.5L172.5 177.6L206.5 176.8L295.5 177.7L312.5 178.6L333.5 177L336.5 178.3L343.5 177.9L351.5 179L359.5 177.3L374.5 178.9L390.5 178.5L395.5 179.6L425.5 178.4L432.5 179.4L439.5 178.6L451.5 179L458.5 178L472.5 179.1L480.5 178.7L484.5 177L521.5 176.1L531.5 178L587.5 176.8L608.5 177.5L613.5 176.1L627.5 176.8L634.5 176L645.5 178L670.5 179L689.5 178.2L712.5 179.6L729.5 178.3L750.5 179.3L756.5 178.1L768.5 178.8L773.5 178.1L780.5 179.4L799.5 178.1L804.5 178.7L810.5 177.7L815.5 178.6L828.5 178.1L839.5 179.4L846.5 178.3L860.5 178.7L867.5 176.8L877.5 176.6L878.8 178.5L879.4 182.5L878.9 189.5L877.5 191L870.5 190.8L851.5 194.6L845.5 193.5L828.5 195.5L825.5 197.3L821.5 198L820.5 197.5L826.1 194.5L828 192.5L827.5 191.9L819.5 189.4L809.5 187.9L793.5 188.7L770.5 188.4L762.5 187.4L750.5 188.7L732.5 187.8L719.5 188.4L702.5 190.3L694.5 193.5L696.5 194.9L697.1 198.5L696.5 198.8ZM761.5 322.7L760.3 322.5L760.5 321.1L761.5 320.6L763.5 321.5L761.5 322.7ZM699.5 430.3L696.5 430L695.8 428.5L699.5 428.4L700.2 429.5L699.5 430.3ZM543.5 451.6L526.5 450L519.5 451.1L511.5 450.1L499.5 450.3L463.5 447.5L447.5 447.5L444.5 448L442.5 449.5L436.5 447.8L411.5 449.6L398.5 447.7L383.5 447.5L351.5 448L340.5 450L333.5 448.1L327.5 447.9L312.5 449.3L299.5 448.6L276.5 449.6L268.5 451.6L247.5 449.6L239.5 449.8L233.5 451.4L219.5 450.5L200.5 451.5L194.5 451L189.5 451.9L171.5 449.2L170.5 443.5L170.8 439.5L172.5 437.1L226.5 437.4L249.5 435.3L285.5 435.3L295.5 436.1L315.5 434.8L330.5 431.8L334.5 432.1L351.5 437.2L358.5 436.7L364.5 438.1L381.5 438.7L396.5 437.1L401.5 438.8L409.5 439.4L422.5 438.3L436.5 439L450.5 438.3L454.5 437.1L458.5 433.9L472.5 432.1L482.5 434.5L488.5 434.3L499.5 435.9L518.5 434.9L532.5 437L538.5 435.6L547.5 435.2L555.5 436.8L593.5 436.4L604.5 437.1L647.5 436.3L665.5 433.1L678.5 432.2L687.5 430L691.8 430.5L692.8 433.5L697.5 437.2L703.5 438L711.5 438.5L719.5 437.4L723.5 438.3L743.5 439.1L756.5 438.5L763.5 439.5L768.5 438.7L802.5 439L815.5 438.6L821.5 436.5L824.5 433.5L822.9 430.5L823.5 428.3L848.5 433.1L867.5 435.7L877.5 436L878.8 437.5L879.5 442.5L878.9 448.5L877.5 450.2L863.5 448.5L841.5 448.5L830.5 447.2L820.5 448.1L798.5 447.7L786.5 448.6L763.5 447.7L754.5 448.9L737.5 447.5L731.5 448.4L727.5 447.6L713.5 448L708.5 447.1L702.5 448.7L692.5 447.7L649.5 449L637.5 448.5L624.5 450.6L610.5 450.3L600.5 449L574.5 451.4L552.5 450.6L543.5 451.6Z"/>
<path fill="rgb(0,0,150)" fill-rule="evenodd" d="M684.5 194.6L677.5 193.1L669.5 193.9L652.5 190.5L637.5 191.5L560.5 190.7L551.5 191.3L546.5 190.1L534.5 189.8L511.5 190.4L503.5 191.8L486.5 192.8L467.5 192L453.5 188.7L436.5 187.1L428.5 188L415.5 185.6L407.5 188.2L384.5 187.6L376.5 186.3L368.5 187.7L360.5 187.3L344.5 189.9L333.5 193L326.5 193.5L319.5 192.2L268.5 191.5L251.5 189.4L241.5 191L227.5 189.8L174.5 189.9L171.5 188.8L170.6 184.5L171.5 178.6L176.5 177.6L296.5 178.2L312.5 179.1L325.5 178.6L331.5 180L343.5 178.6L352.5 179.8L359.5 178.1L363.5 179.7L369.5 179.1L379.5 180.2L380.2 181.5L378 182.5L378.5 183.7L380.5 184.7L381.1 181.5L387.5 179.9L396.5 180.6L406.5 179.4L414.5 180.5L424.5 179.3L432.5 180.2L452.5 180.1L460.5 178.9L470.5 179.8L480.5 179.4L484.5 177.7L521.5 176.7L531.5 178.5L587.5 177.4L608.5 177.9L614.5 176.5L626.5 177.5L635.5 176.7L642.5 178.2L670.5 179.7L676.5 179.1L682.5 180.1L688.5 179.4L713.5 180.6L729.5 179L748.5 180L763.5 179.2L770.5 180.2L798.5 178.9L812.5 180.2L823.5 178.7L837.5 180.1L847.5 178.9L860.5 179.2L867.5 177.4L877.5 177.3L878.6 178.5L879.3 182.5L878.9 188.5L877.5 190.5L871.5 190.1L851.5 193.2L846.5 192.3L840.5 193.7L832.5 193.3L830.7 191.5L826.5 190.1L809.5 187L800.5 188.1L776.5 187.8L747.5 186.1L741.5 187.5L726.5 187.5L717.5 187.2L714.5 186.2L709.5 187.7L703.5 187.6L684.5 194.6ZM574.5 450.6L552.5 450L543.5 450.6L525.5 449.2L518.5 450.5L508.5 449.3L484.5 448.9L462.5 446.7L424.5 447.1L412.5 448.2L406.5 446.4L401.5 447.2L382.5 446.4L370.5 447.4L364.5 446.5L359.5 447.7L351.5 447.1L348.5 445.9L339.5 448.8L333.5 447.2L328.5 447.2L313.5 448.5L275.5 449.2L268.5 450.2L255.5 450.3L243.5 449.1L230.5 450.9L217.5 449.9L189.5 450.8L172.5 449.2L171.4 448.5L170.6 443.5L171 439.5L172.5 437.6L226.5 437.9L249.5 436.1L289.5 435.9L295.5 436.8L315.2 435.5L330.5 432.9L346.5 437.6L353.5 438.2L358.5 437.5L366.5 439.9L371.5 438.9L381.5 439.5L393.5 438.6L410.5 440.1L450.5 438.9L456 437.5L459.5 434.9L472.5 433.2L481.5 435.2L498.5 436.4L518.5 435.6L532.5 437.4L538.5 436.1L546.5 435.8L555.5 437.2L593.5 436.9L604.5 437.8L647.5 436.8L687.5 431.4L689.8 432.5L688.8 434.5L693.5 435.4L696.5 438.7L723.5 439.9L754.5 439.5L763.5 440.6L772.5 439.5L797.5 439.2L806.5 440.1L815.5 439.5L829.7 435.5L831.1 434.5L828.2 433.5L829.5 432.2L834.5 432.2L862.5 434.9L867.5 436.1L877.5 436.5L878.5 437.4L879.3 441.5L878.6 448.5L876.5 449.7L870.5 448.4L852.5 447.4L844.5 448L830.5 446.4L805.5 447.5L793.5 446.7L786.5 447.6L764.5 447.2L753.5 448L736.5 446.4L731.5 447.3L713.5 446.7L707.5 445.4L701.5 447.1L637.5 448.1L624.5 450L609.5 449.7L600.5 448.5L574.5 450.6Z"/>
<path fill="rgb(0,0,95)" fill-rule="evenodd" d="M330.5 191.5L302.5 190.6L298.5 189.6L281.5 190.4L251.5 188.4L243.5 189.3L237.5 188.5L174.5 188.7L171.6 187.5L170.9 184.5L171.7 179.5L177.5 178.5L262.5 178.8L269.5 179.9L290.5 180.1L296.5 179.1L319.5 180.2L327.5 181.8L337.5 181.9L345.1 183.5L343.5 185.8L330.5 191.5ZM682.5 190.7L667.5 191.2L652.5 189.5L640.5 190.2L614.5 189.3L605.5 190.1L574.5 189L565.5 189.9L560.5 189.1L536.5 188.6L482.5 190.6L471.5 190L467.5 188.3L465.5 189.1L457.5 187.2L455.2 185.5L455.5 184.5L459 183.5L460.5 181.4L481.5 180.8L485.5 179.1L488.5 178.8L493.5 179.6L521.5 178.2L532.5 179.3L564.5 179.3L633.5 178.3L666.5 180.3L684.8 182.5L686.5 183.5L687.9 186.5L684 188.5L682.5 190.7ZM856.5 190.6L852.5 191.5L835.5 190.3L834.3 189.5L834.5 188L829.1 187.5L825.8 185.5L825.9 184.5L827.3 182.5L829.8 181.5L836.5 181.9L851.5 179.8L861.5 180.3L868.5 178.7L877.5 178.7L878 179.5L878.9 185.5L877.5 189.3L873.5 188.9L856.5 190.6ZM739.5 185.7L732.5 185.5L732.7 182.5L734.5 181.3L742.5 180.8L744.9 181.5L742.5 183.4L739.5 182.1L738.8 183.5L740.8 184.5L739.5 185.7ZM792.5 185.8L789.5 185.9L788.7 184.5L790.5 182.1L796 181.5L794.9 184.5L792.5 185.8ZM356.5 184.6L355.2 183.5L357.5 182.5L358.6 183.5L356.5 184.6ZM391.5 184.9L387.5 184.8L385.9 183.5L387.4 182.5L390.5 182.7L392 183.5L391.5 184.9ZM425.5 183.8L423.5 183.8L422.1 182.5L423.5 181.9L426 182.5L425.5 183.8ZM433.5 185.6L430.5 185.5L427.6 182.5L437.5 181.5L439.1 182.5L433.5 185.6ZM782.5 185.8L775.5 185.8L775.4 182.5L783.5 182L784.2 184.5L782.5 185.8ZM818.5 184.6L813 184.5L814.5 183.1L820.3 182.5L820.6 183.5L818.5 184.6ZM630.5 448.5L609.5 448.6L602.5 447.5L582.5 449L543.5 449.1L536.5 447.9L514.5 448.4L494.5 446.8L488.5 447.8L473.7 446.5L466.5 444.4L459.5 444.8L458.7 442.5L457.5 442.3L455 444.5L451.5 445L441.5 443.9L435.5 445L435.5 443.5L434.5 443.1L428.5 443.7L426.6 442.5L429.5 441.3L438.5 442.1L458.5 440.2L468.5 438L469.5 437.5L468.9 436.5L469.5 435.8L472.5 435L477.5 437L486.5 437.1L490.5 438.1L516.5 436.9L526.5 438.6L532.5 438.5L538.5 437.2L603.5 438.9L641.5 437.6L650.5 438.2L669.5 435.7L686.4 436.5L687.6 438.5L692.5 441.3L696.1 441.5L695.8 442.5L692.5 443.1L689.5 445.4L683.5 444.2L668.5 446.3L652.5 447.6L636.5 447.1L630.5 448.5ZM876.5 448.5L851.5 445.8L845.5 446.6L825.5 443.9L819.5 444.9L810.9 443.5L815.5 441.7L819.5 441.1L823.5 441.7L830.5 439.8L832.5 437.7L834.5 437.7L837.5 435.7L843.5 435.2L849.5 436.3L862.5 436L877.5 437.8L878.9 440.5L878.9 445.5L878.3 447.5L876.5 448.5ZM271.5 448.6L256.5 449.4L243.5 447.8L229.5 449.5L214.5 448.5L183.5 449.3L172.5 448.3L171.5 447.3L170.9 442.5L171.5 439.5L173.5 438.5L215.5 438.2L225.5 439L238.5 437.8L280.5 438L290.5 436.9L295.5 438.2L322.5 435.5L328.5 436L335.5 438.3L340.9 442.5L339.5 444.1L335.5 445.4L328.5 444.6L314.5 447.1L290.5 447.2L271.5 448.6ZM777.5 443.9L775.5 444.3L774.3 443.5L774.4 442.5L780.1 441.5L777.5 443.9ZM809.5 445.7L797.5 445.4L793.8 444.5L792.6 442.5L797.5 441.2L800.5 442.6L807.5 442.1L811.1 444.5L809.5 445.7ZM738.5 443.9L734.5 444.4L732.7 443.5L734.5 442.2L740.1 442.5L738.5 443.9ZM746.5 445.2L741.8 442.5L747.8 442.5L748.1 443.5L746.5 445.2ZM765.5 445.7L761.5 446L757.5 444.1L750.1 443.5L750.4 442.5L753.5 441.8L767.5 441.8L769.6 442.5L768.7 444.5L765.5 445.7ZM373.5 444.5L371 444.5L372.5 443.1L373.7 443.5L373.5 444.5Z"/>
<path fill="rgb(10,0,50)" fill-rule="evenodd" d="M227.5 185L224.5 185.2L221.3 183.5L225.5 181.5L235.9 182.5L234.5 183.4L229.5 183.2L227.5 185ZM190.5 185.5L178.5 185.9L173.5 185.5L172.2 184.5L172.5 183.5L179.5 182.2L186.5 182.9L190.5 185.5ZM216.5 185.5L205.5 185.9L203.2 184.5L211.5 182.1L212.5 184L218.1 184.5L216.5 185.5ZM249.5 185.6L247.5 185.5L247.5 184.5L250.5 183L253.6 183.5L253.1 184.5L249.5 185.6ZM532.5 185.6L529.5 185.8L527.9 184.5L528.6 183.5L531.5 183.1L534.2 184.5L532.5 185.6ZM586.5 183.5L584.5 184.1L583.3 183.5L584.5 182.6L586.5 183.5ZM652.5 186.6L649.1 185.5L653.5 183.7L658.5 184.1L661.3 185.5L652.5 186.6ZM863.5 443.5L861.3 442.5L864.5 441.4L866.2 442.5L863.5 443.5ZM182.5 444.9L172.5 444.1L172.4 442.5L175.5 442L180.5 442.9L183.3 444.5L182.5 444.9ZM225.5 443.5L223.1 442.5L225.5 441.8L227.3 442.5L225.5 443.5ZM597.5 443.8L593.5 444.3L591.8 442.5L594.5 441.8L597 442.5L598.2 443.5L597.5 443.8ZM606.5 444.6L601.7 443.5L601.2 442.5L603.5 441.8L608.9 442.5L606.5 444.6ZM641.5 444.6L636.2 443.5L639.5 442.1L649.9 442.5L641.5 444.6ZM534.5 443.9L531.5 443.5L533.5 442.6L535.1 443.5L534.5 443.9Z"/>
</g>
<path d="M242.2 147V481M313.0 147V481M383.8 147V481M454.5 147V481M525.2 147V481M596.0 147V481M666.8 147V481M737.5 147V481M808.2 147V481M171 185.3H879M171 249.7H879M171 314.0H879M171 378.4H879M171 442.7H879" stroke="#a0a0a0" stroke-width="1" stroke-opacity="0.3" fill="none"/>
<path d="M438 314H514M628 314H722" stroke="#f09614" stroke-width="3"/>
<path d="M433 314Q443 312.7 449.5 307.8L446.5 314L449.5 320.2Q443 315.3 433 314Z" fill="#f09614" stroke="#f09614" stroke-width="2" stroke-linejoin="round"/>
<path d="M726 314Q716 312.7 707.5 307.8L710.5 314L707.5 320.2Q716 315.3 726 314Z" fill="#f09614" stroke="#f09614" stroke-width="2" stroke-linejoin="round"/>
<rect x="468" y="179" width="201" height="270" fill="rgb(245,0,0)" fill-opacity="0.193"/>
<g fill="#f2a124" stroke="#d98a12" stroke-width="0.8"><rect x="370.7" y="478.8" width="3.6" height="2.2"/><rect x="374.2" y="471.8" width="3.6" height="9.2"/><rect x="377.8" y="464.2" width="3.5" height="16.8"/><rect x="381.3" y="454.6" width="3.6" height="26.4"/><rect x="384.9" y="442.0" width="3.6" height="39.0"/><rect x="388.4" y="403.8" width="3.6" height="77.2"/><rect x="392.0" y="396.0" width="3.6" height="85.0"/><rect x="395.6" y="358.8" width="3.5" height="122.2"/><rect x="399.1" y="348.0" width="3.6" height="133.0"/><rect x="402.6" y="357.5" width="3.6" height="123.5"/><rect x="406.2" y="375.9" width="3.6" height="105.1"/><rect x="409.8" y="414.6" width="3.5" height="66.4"/><rect x="413.3" y="440.7" width="3.6" height="40.3"/><rect x="416.8" y="461.0" width="3.6" height="20.0"/><rect x="420.4" y="467.3" width="3.6" height="13.7"/><rect x="423.9" y="476.2" width="3.6" height="4.8"/><rect x="427.5" y="476.0" width="3.5" height="5.0"/><rect x="431.0" y="478.5" width="3.6" height="2.5"/></g>
<g fill="#f2a124" stroke="#d98a12" stroke-width="0.8"><rect x="728.9" y="471.8" width="3.5" height="9.2"/><rect x="732.4" y="466.7" width="3.6" height="14.3"/><rect x="736.0" y="454.6" width="3.5" height="26.4"/><rect x="739.5" y="438.8" width="3.6" height="42.2"/><rect x="743.1" y="411.4" width="3.5" height="69.6"/><rect x="746.6" y="386.2" width="3.5" height="94.8"/><rect x="750.2" y="360.6" width="3.6" height="120.4"/><rect x="753.8" y="348.0" width="3.5" height="133.0"/><rect x="757.3" y="349.4" width="3.6" height="131.6"/><rect x="760.9" y="375.9" width="3.5" height="105.1"/><rect x="764.4" y="415.2" width="3.5" height="65.8"/><rect x="767.9" y="443.2" width="3.6" height="37.8"/><rect x="771.5" y="463.5" width="3.5" height="17.5"/><rect x="775.0" y="468.6" width="3.6" height="12.4"/><rect x="778.6" y="472.4" width="3.5" height="8.6"/><rect x="782.1" y="476.2" width="3.5" height="4.8"/><rect x="785.7" y="479.0" width="3.6" height="2.0"/></g>
<path d="M395.6 378.4H409.8M384.9 442.7H416.8M750.2 378.4H764.4M739.5 442.7H767.9" stroke="#b0a090" stroke-width="1" stroke-opacity="0.6"/>
<g stroke="#e8910f" stroke-width="3" fill="none">
<path d="M171.5 314H422" stroke-dasharray="10 10"/>
<path d="M401 139.6V345" stroke-dasharray="9.7 9.7" clip-path="url(#pc)"/>
<path d="M735.5 314H879" stroke-dasharray="10 10"/>
<path d="M755.2 139.6V345" stroke-dasharray="9.7 9.7" clip-path="url(#pc)"/>
</g>
<text x="417" y="325" font-family="Liberation Sans, sans-serif" font-size="12" fill="#f0a040" fill-opacity="0.85">3σ</text>
<text x="740" y="325" font-family="Liberation Sans, sans-serif" font-size="12" fill="#e0a050" fill-opacity="0.85">3σ</text>
<path d="M171.5 481v-5M171.5 147v5M242.2 481v-5M242.2 147v5M313.0 481v-5M313.0 147v5M383.8 481v-5M383.8 147v5M454.5 481v-5M454.5 147v5M525.2 481v-5M525.2 147v5M596.0 481v-5M596.0 147v5M666.8 481v-5M666.8 147v5M737.5 481v-5M737.5 147v5M808.2 481v-5M808.2 147v5M879.0 481v-5M879.0 147v5M171 185.3h5M879 185.3h-5M171 249.7h5M879 249.7h-5M171 314.0h5M879 314.0h-5M171 378.4h5M879 378.4h-5M171 442.7h5M879 442.7h-5" stroke="#777" stroke-width="1.2" fill="none"/>
<rect x="171" y="147" width="708" height="334" fill="none" stroke="#707070" stroke-width="2"/>
<rect x="515" y="299" width="112" height="35" rx="4.5" fill="none" stroke="#d2870a" stroke-width="3.2"/>
<path d="M468.4 306V517.5M669 306V517.5" stroke="#fe0000" stroke-width="4.4"/>
<path d="M468.4 289.5L460.2 306H476.6Z M669 289.5L660.8 306H677.2Z" fill="#fe0000"/>
<path d="M505 351H547.6V345L563 358.6L547.6 372.6V365.6H505Z" fill="url(#gl)"/>
<path d="M631 351H588.4V345L573 358.6L588.4 372.6V365.6H631Z" fill="url(#gr)"/>
</svg>
<div class="t title" style="top:59px;font-size:35px">PVT感知时序优化技术</div>
<div class="t tick r" style="left:120px;width:40px;top:177px;font-size:15.5px">1</div>
<div class="t tick r" style="left:120px;width:40px;top:242px;font-size:15.5px">0.5</div>
<div class="t tick r" style="left:120px;width:40px;top:306px;font-size:15.5px">0</div>
<div class="t tick r" style="left:120px;width:40px;top:370px;font-size:15.5px">-0.5</div>
<div class="t tick r" style="left:120px;width:40px;top:435px;font-size:15.5px">-1</div>
<div class="t tick c" style="left:141.5px;width:60px;top:489px;font-size:15.5px">0</div>
<div class="t tick c" style="left:212.2px;width:60px;top:489px;font-size:15.5px">0.2</div>
<div class="t tick c" style="left:283.0px;width:60px;top:489px;font-size:15.5px">0.4</div>
<div class="t tick c" style="left:353.8px;width:60px;top:489px;font-size:15.5px">0.6</div>
<div class="t tick c" style="left:424.5px;width:60px;top:489px;font-size:15.5px">0.8</div>
<div class="t tick c" style="left:495.2px;width:60px;top:489px;font-size:15.5px">1</div>
<div class="t tick c" style="left:566.0px;width:60px;top:489px;font-size:15.5px">1.2</div>
<div class="t tick c" style="left:636.8px;width:60px;top:489px;font-size:15.5px">1.4</div>
<div class="t tick c" style="left:707.5px;width:60px;top:489px;font-size:15.5px">1.6</div>
<div class="t tick c" style="left:778.2px;width:60px;top:489px;font-size:15.5px">1.8</div>
<div class="t tick c" style="left:849.0px;width:60px;top:489px;font-size:15.5px">2</div>
<div class="t tick c" style="left:492px;width:60px;top:510px;font-size:15.5px">Time</div>
<div class="t tick r" style="left:800px;width:77px;top:511px;font-size:14px">x10<sup style="font-size:9px;vertical-align:5px">-9</sup></div>
<div class="t tick c" style="left:73px;width:80px;top:308.5px;font-size:17px;transform:rotate(-90deg);transform-origin:40px 8px;color:#555;-webkit-text-stroke:0.4px #555">实际振幅</div>
<div class="t c b" style="left:517px;width:100px;top:269px;font-size:18.5px;color:#fe0000">PVT变化</div>
<div class="t c" style="left:521px;width:100px;top:306px;font-size:18px;color:#555;-webkit-text-stroke:0.5px #555">眼宽</div>
<div class="t c b" style="left:467px;width:200px;top:380.5px;font-size:18.5px;color:#eb1e23">PVT感知时序优化</div>
<div class="t c b bt" style="left:334.0px;top:535.5px">最低温度, 最高电压模型</div>
<div class="t c b bt" style="left:333.8px;top:560px">高VDD</div>
<div class="t c b bt" style="left:331.2px;top:584.5px">时钟时序</div>
<div class="t c b bt" style="left:566.0px;top:535.5px">最高温度, 最低电压模型</div>
<div class="t c b bt" style="left:566.5px;top:560px">低VDD</div>
<div class="t c b bt" style="left:563.0px;top:584.5px">时钟时序</div>

</body></html>
